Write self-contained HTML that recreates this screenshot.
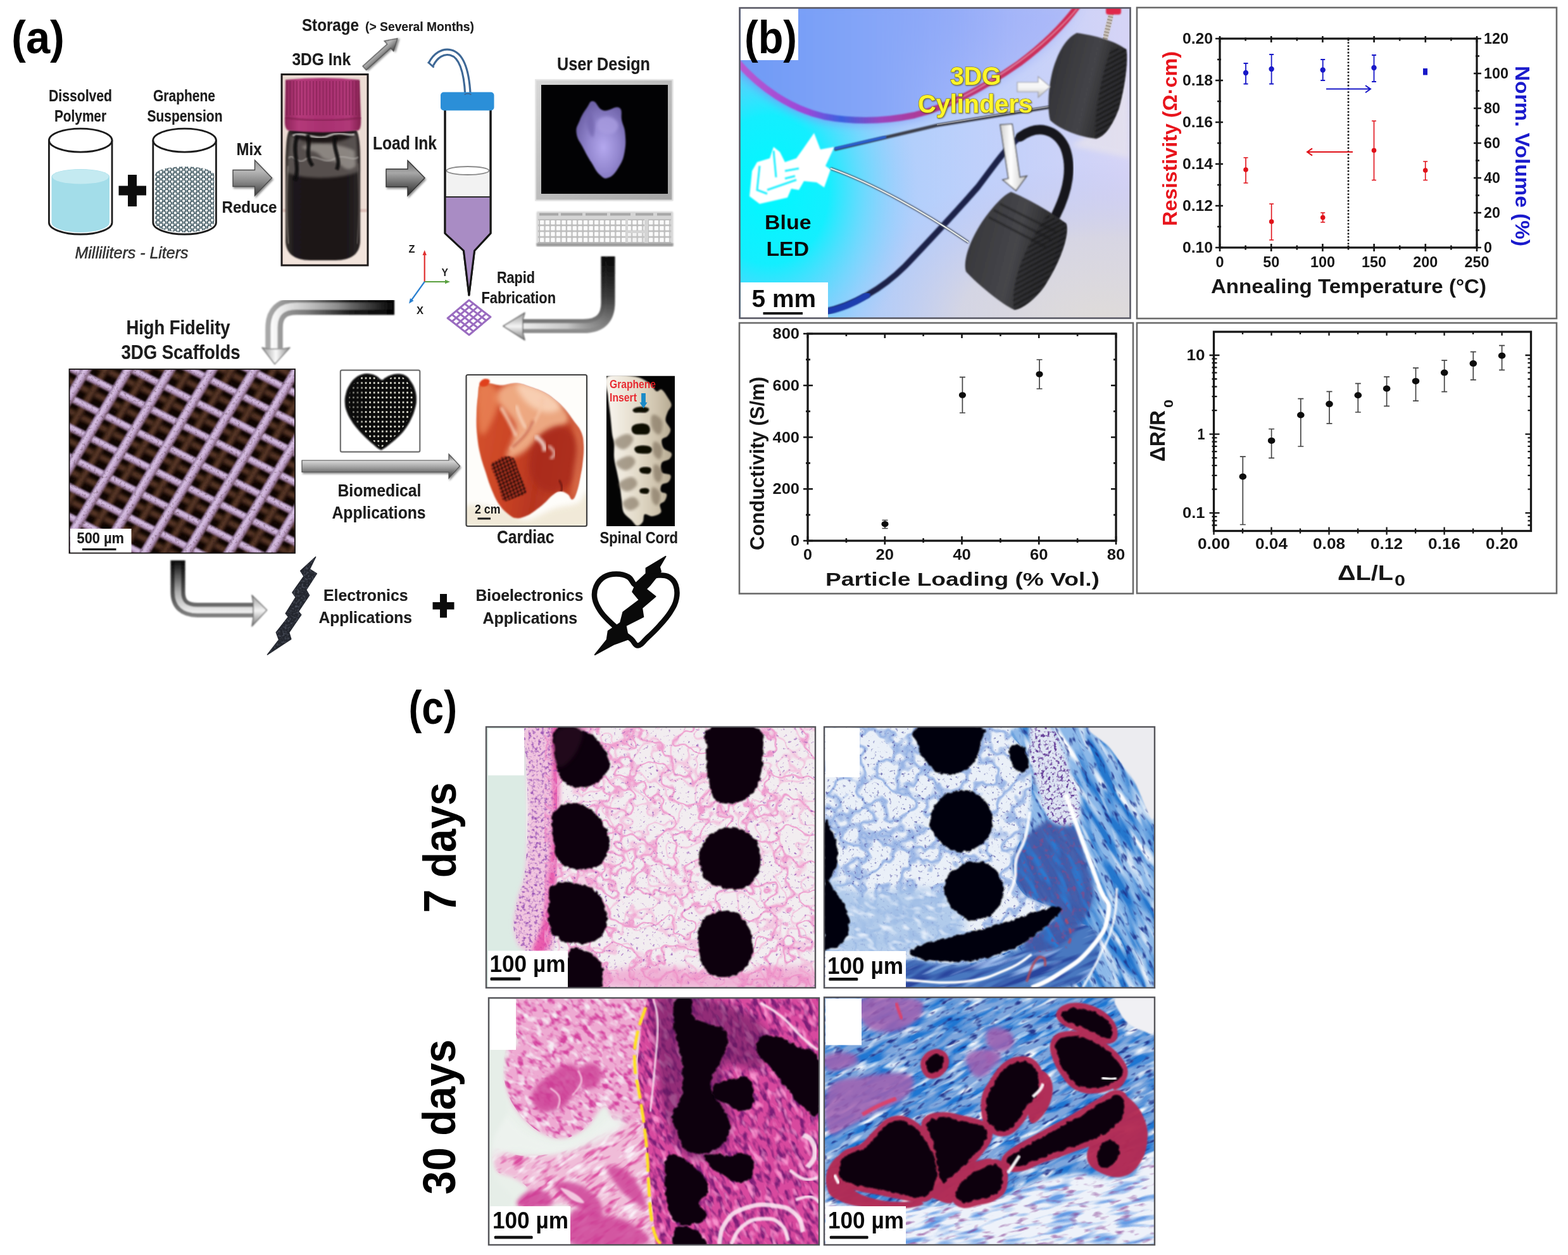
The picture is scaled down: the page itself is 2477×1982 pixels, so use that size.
<!DOCTYPE html>
<html lang="en">
<head>
<meta charset="utf-8">
<title>3D printed graphene (3DG) scaffolds figure</title>
<style>
html,body{margin:0;padding:0;background:#fff;}
body{width:2477px;height:1982px;overflow:hidden;}
svg{display:block;font-family:"Liberation Sans","DejaVu Sans",sans-serif;}
</style>
</head>
<body>
<svg xmlns="http://www.w3.org/2000/svg" width="2477" height="1982" viewBox="0 0 2477 1982">
<defs>
<linearGradient id="agArr" x1="0" y1="0" x2="0" y2="1"><stop offset="0" stop-color="#9c9c9c"/><stop offset="0.3" stop-color="#b8b8b8"/><stop offset="0.6" stop-color="#8a8a8a"/><stop offset="1" stop-color="#3c3c3c"/></linearGradient>
<linearGradient id="agArrD" x1="0" y1="0" x2="0" y2="1"><stop offset="0" stop-color="#6a6a6a"/><stop offset="0.35" stop-color="#a8a8a8"/><stop offset="0.65" stop-color="#6c6c6c"/><stop offset="1" stop-color="#2a2a2a"/></linearGradient>
<filter id="ab1" x="-10%" y="-10%" width="120%" height="120%"><feGaussianBlur stdDeviation="0.8"/></filter>
<filter id="ab2" x="-10%" y="-10%" width="120%" height="120%"><feGaussianBlur stdDeviation="2"/></filter>
<filter id="ab4" x="-20%" y="-20%" width="140%" height="140%"><feGaussianBlur stdDeviation="4"/></filter>
<filter id="ash" x="-20%" y="-20%" width="150%" height="150%"><feDropShadow dx="1.5" dy="2.5" stdDeviation="1.6" flood-color="#000" flood-opacity="0.45"/></filter>
<pattern id="apart" width="9" height="7.6" patternUnits="userSpaceOnUse" patternTransform="translate(243 262)"><rect width="9" height="7.6" fill="#40545c"/><circle cx="2.2" cy="2" r="2.25" fill="#f4f8f8"/><circle cx="6.8" cy="5.8" r="2.25" fill="#f4f8f8"/><circle cx="6.6" cy="1.6" r="1.1" fill="#a8c0c8"/><circle cx="2.2" cy="5.6" r="1.1" fill="#a8c0c8"/></pattern>

<clipPath id="abot"><rect x="446" y="118.5" width="134" height="299.5"/></clipPath>
<linearGradient id="agCap" x1="0" y1="0" x2="1" y2="0"><stop offset="0" stop-color="#8c2458"/><stop offset="0.18" stop-color="#b43a7a"/><stop offset="0.5" stop-color="#a83070"/><stop offset="0.85" stop-color="#b03878"/><stop offset="1" stop-color="#82204e"/></linearGradient>
<pattern id="apCap" width="5.2" height="10" patternUnits="userSpaceOnUse"><rect width="5.2" height="10" fill="none"/><rect width="1.8" height="10" fill="#7a1c4a" opacity="0.55"/></pattern>
<linearGradient id="agInk" x1="0" y1="0" x2="1" y2="0"><stop offset="0" stop-color="#3a3430"/><stop offset="0.12" stop-color="#1c181a"/><stop offset="0.8" stop-color="#1a1618"/><stop offset="1" stop-color="#2c2626"/></linearGradient>
<linearGradient id="agBez" x1="0" y1="0" x2="1" y2="1"><stop offset="0" stop-color="#d8d8d8"/><stop offset="0.5" stop-color="#bcbcbc"/><stop offset="1" stop-color="#a4a4a4"/></linearGradient>
<radialGradient id="agHrt" cx="0.55" cy="0.6" r="0.6"><stop offset="0" stop-color="#b4a8ee"/><stop offset="0.5" stop-color="#9488d0"/><stop offset="1" stop-color="#6e62a8"/></radialGradient>
<pattern id="apKey" width="8.6" height="9.2" patternUnits="userSpaceOnUse" patternTransform="translate(852 347)"><rect width="8.6" height="9.2" fill="#bdbdbd"/><rect x="1" y="1" width="6.4" height="6.6" rx="1" fill="#fbfbfb"/></pattern>
<clipPath id="ascf"><rect x="110" y="583.5" width="355.5" height="289.5"/></clipPath>
<linearGradient id="agS1" x1="0" y1="0" x2="0" y2="1"><stop offset="0" stop-color="#7e6088"/><stop offset="0.3" stop-color="#dcc6e8"/><stop offset="0.65" stop-color="#c0a2cc"/><stop offset="1" stop-color="#6a4a5c"/></linearGradient>
<linearGradient id="agS2" x1="0" y1="0" x2="0" y2="1"><stop offset="0" stop-color="#2a1608"/><stop offset="0.5" stop-color="#644030"/><stop offset="1" stop-color="#1a0a04"/></linearGradient>
<pattern id="apSA" width="60" height="57" patternUnits="userSpaceOnUse" patternTransform="translate(220 872) rotate(-59)"><rect y="0" width="60" height="15.5" fill="url(#agS1)"/></pattern>
<pattern id="apSB" width="60" height="42" patternUnits="userSpaceOnUse" patternTransform="translate(112 669) rotate(27)"><rect y="0" width="60" height="12.5" fill="url(#agS1)"/></pattern>
<pattern id="apSC" width="60" height="57" patternUnits="userSpaceOnUse" patternTransform="translate(252 872) rotate(-59)"><rect y="0" width="60" height="13" fill="url(#agS2)"/></pattern>
<pattern id="apSD" width="60" height="42" patternUnits="userSpaceOnUse" patternTransform="translate(112 691) rotate(27)"><rect y="0" width="60" height="12" fill="url(#agS2)"/></pattern>
<filter id="aSn" x="0" y="0" width="100%" height="100%" color-interpolation-filters="sRGB"><feTurbulence type="fractalNoise" baseFrequency="0.25" numOctaves="2" seed="4" result="n"/><feColorMatrix in="n" type="matrix" values="0 0 0 0 0.2  0 0 0 0 0.1  0 0 0 0 0.1  2.2 0 0 0 -1.2" result="c"/><feComposite in="c" in2="SourceGraphic" operator="in"/></filter>
<linearGradient id="agC1" gradientUnits="userSpaceOnUse" x1="960" y1="405" x2="960" y2="520"><stop offset="0" stop-color="#050505"/><stop offset="0.55" stop-color="#3a3a3a"/><stop offset="1" stop-color="#8c8c8c"/></linearGradient>
<linearGradient id="agC1b" gradientUnits="userSpaceOnUse" x1="800" y1="0" x2="960" y2="0"><stop offset="0" stop-color="#fafafa"/><stop offset="0.6" stop-color="#c8c8c8"/><stop offset="1" stop-color="#909090" stop-opacity="0"/></linearGradient>
<linearGradient id="agC2" gradientUnits="userSpaceOnUse" x1="623" y1="0" x2="425" y2="0"><stop offset="0" stop-color="#020202"/><stop offset="0.35" stop-color="#1c1c1c"/><stop offset="0.7" stop-color="#7a7a7a"/><stop offset="1" stop-color="#a8a8a8"/></linearGradient>
<linearGradient id="agC2b" gradientUnits="userSpaceOnUse" x1="623" y1="0" x2="425" y2="0"><stop offset="0" stop-color="#8a8a8a" stop-opacity="0"/><stop offset="0.45" stop-color="#b0b0b0" stop-opacity="0.7"/><stop offset="1" stop-color="#ffffff"/></linearGradient>
<linearGradient id="agC3" gradientUnits="userSpaceOnUse" x1="0" y1="884" x2="0" y2="980"><stop offset="0" stop-color="#050505"/><stop offset="0.5" stop-color="#4a4a4a"/><stop offset="1" stop-color="#8a8a8a"/></linearGradient>
<linearGradient id="agC3b" gradientUnits="userSpaceOnUse" x1="0" y1="884" x2="0" y2="970"><stop offset="0" stop-color="#888" stop-opacity="0"/><stop offset="0.6" stop-color="#c4c4c4" stop-opacity="0.8"/><stop offset="1" stop-color="#f4f4f4"/></linearGradient>
<linearGradient id="agBio" x1="0" y1="0" x2="0" y2="1"><stop offset="0" stop-color="#5a5a5a"/><stop offset="0.3" stop-color="#d4d4d4"/><stop offset="0.55" stop-color="#a0a0a0"/><stop offset="1" stop-color="#303030"/></linearGradient>
<linearGradient id="agHd" x1="0" y1="0" x2="0" y2="1"><stop offset="0" stop-color="#9a9a9a"/><stop offset="0.5" stop-color="#f4f4f4"/><stop offset="1" stop-color="#7a7a7a"/></linearGradient>
<linearGradient id="agHd2" x1="0" y1="0" x2="1" y2="0"><stop offset="0" stop-color="#9a9a9a"/><stop offset="0.5" stop-color="#fafafa"/><stop offset="1" stop-color="#8a8a8a"/></linearGradient>
<pattern id="apDots" width="6.55" height="7.65" patternUnits="userSpaceOnUse" patternTransform="translate(568.2 593.6)"><rect width="6.55" height="7.65" fill="#0a0a0a"/><rect x="1.9" y="2.2" width="2.8" height="2.8" rx="0.7" fill="#e6e6d8"/></pattern>
<clipPath id="ahm"><path d="M602.8 603.7C599.9 602.8 598.5 598.8 594.6 596.7C590.6 594.6 588.5 594.2 584.1 593.7C579.7 593.2 577.9 593.2 573.7 594.6C569.5 595.9 567.8 596.8 564.1 600.2C560.5 603.6 558.9 605.7 556.3 610.7C553.7 615.6 553.1 618.4 552.0 623.7C550.9 629.0 550.7 630.6 551.1 635.9C551.5 641.2 551.9 643.4 553.7 648.9C555.5 654.4 556.7 656.7 559.8 662.0C562.9 667.3 564.5 669.2 568.5 674.1C572.5 679.1 574.5 680.9 578.9 685.4C583.3 690.0 585.0 691.7 589.3 695.9C593.7 700.1 596.5 703.5 599.8 705.4C603.1 707.4 601.7 706.8 605.0 705.0C608.3 703.2 610.9 700.7 615.4 696.7C620.0 692.8 622.2 691.1 626.7 686.3C631.3 681.6 633.3 679.6 637.2 674.1C641.0 668.7 642.2 666.2 645.0 660.2C647.8 654.2 649.0 651.6 650.7 645.4C652.3 639.2 652.7 636.7 652.7 630.7C652.7 624.6 652.3 622.0 650.7 616.7C649.0 611.4 647.5 609.5 645.0 605.4C642.5 601.4 642.2 599.9 638.9 597.6C635.6 595.3 633.7 594.8 629.3 594.6C625.0 594.3 622.4 594.9 618.0 596.3C613.7 597.7 611.7 599.5 608.5 601.1C605.3 602.6 605.7 604.6 602.8 603.7Z"/></clipPath>
<clipPath id="acar"><rect x="737" y="592.5" width="189.5" height="238.0" rx="2"/></clipPath>
<linearGradient id="agCar" gradientUnits="userSpaceOnUse" x1="750" y1="700" x2="925" y2="730"><stop offset="0" stop-color="#d2502c"/><stop offset="0.3" stop-color="#cc4526"/><stop offset="0.6" stop-color="#b6351f"/><stop offset="1" stop-color="#c84a2c"/></linearGradient>
<pattern id="apHex" width="7.4" height="8.4" patternUnits="userSpaceOnUse" patternTransform="translate(778 722) rotate(22)"><rect width="7.4" height="8.4" fill="#1c0a08"/><circle cx="1.85" cy="2.1" r="2.1" fill="#b03420"/><circle cx="5.55" cy="6.3" r="2.1" fill="#b03420"/></pattern>
<clipPath id="acarh"><path d="M758.9 606.4C762.7 602.3 766.1 605.2 773.2 605.6C780.4 606.1 784.0 608.6 792.8 608.6C801.7 608.6 806.0 605.0 815.5 605.6C825.0 606.3 828.6 608.5 838.1 611.7C847.6 614.8 852.8 616.6 860.7 620.7C868.6 624.8 869.4 626.2 875.8 631.3C882.1 636.3 884.5 637.9 890.8 644.8C897.2 651.8 900.2 656.5 905.9 664.4C911.6 672.3 914.7 674.3 918.0 682.5C921.3 690.8 921.3 693.5 921.8 703.6C922.2 713.8 921.4 720.3 920.2 730.8C919.1 741.2 918.4 743.9 916.5 753.4C914.6 762.9 913.7 768.6 911.2 776.0C908.7 783.4 907.4 787.9 904.4 788.8C901.4 789.8 901.0 783.2 896.9 780.5C892.8 777.8 889.9 775.7 884.8 776.0C879.8 776.3 877.8 778.2 872.8 782.0C867.7 785.8 866.4 789.0 860.7 794.1C855.0 799.2 851.9 801.7 845.6 806.2C839.3 810.6 836.9 812.7 830.5 815.2C824.2 817.7 821.2 818.9 815.5 818.2C809.8 817.6 808.8 816.3 803.4 812.2C798.0 808.1 795.2 806.2 789.8 798.6C784.4 791.0 782.5 787.1 777.8 776.0C773.0 764.9 771.3 758.5 767.2 745.8C763.1 733.2 761.0 728.4 758.2 715.7C755.3 703.0 754.8 698.2 753.6 685.5C752.5 672.9 752.6 668.1 752.9 655.4C753.2 642.7 753.9 635.5 755.2 625.2C756.4 614.9 755.1 610.5 758.9 606.4Z"/></clipPath>
<clipPath id="aspn"><rect x="958" y="593.5" width="108" height="237.5"/></clipPath>
<linearGradient id="agBone" gradientUnits="userSpaceOnUse" x1="965" y1="0" x2="1060" y2="0"><stop offset="0" stop-color="#f6f2ea"/><stop offset="0.45" stop-color="#e2dac8"/><stop offset="0.75" stop-color="#cfc4ae"/><stop offset="1" stop-color="#b8ac94"/></linearGradient>
<filter id="aBn" x="0" y="0" width="100%" height="100%" color-interpolation-filters="sRGB"><feTurbulence type="fractalNoise" baseFrequency="0.3" numOctaves="2" seed="8" result="n"/><feColorMatrix in="n" type="matrix" values="0 0 0 0 0.45  0 0 0 0 0.48  0 0 0 0 0.55  2.4 0 0 0 -1.1" result="c"/><feComposite in="c" in2="SourceGraphic" operator="in"/></filter>
<clipPath id="bclip"><rect x="1169" y="13" width="616" height="489"/></clipPath>
<linearGradient id="bbg" gradientUnits="userSpaceOnUse" x1="1170" y1="250" x2="1785" y2="250">
<stop offset="0" stop-color="#66bcf8"/><stop offset="0.3" stop-color="#a8cefc"/><stop offset="0.6" stop-color="#bed0fb"/><stop offset="1" stop-color="#d6d4f6"/></linearGradient>
<radialGradient id="bcy" gradientUnits="userSpaceOnUse" cx="1215" cy="300" r="235" gradientTransform="translate(1215 300) scale(1 1.25) translate(-1215 -300)">
<stop offset="0" stop-color="#00f8ff" stop-opacity="1"/><stop offset="0.4" stop-color="#10f0ff" stop-opacity="0.97"/><stop offset="0.7" stop-color="#58dcff" stop-opacity="0.55"/><stop offset="1" stop-color="#90c8ff" stop-opacity="0"/></radialGradient>
<linearGradient id="bup" gradientUnits="userSpaceOnUse" x1="1170" y1="0" x2="1600" y2="0"><stop offset="0" stop-color="#6e9af6"/><stop offset="0.5" stop-color="#86a6f8"/><stop offset="1" stop-color="#9cacf8" stop-opacity="0.6"/></linearGradient>
<radialGradient id="bgr" gradientUnits="userSpaceOnUse" cx="1740" cy="520" r="330" gradientTransform="translate(1740 520) scale(1.25 0.8) translate(-1740 -520)">
<stop offset="0" stop-color="#e0dcd8" stop-opacity="1"/><stop offset="0.55" stop-color="#d8d6e0" stop-opacity="0.85"/><stop offset="1" stop-color="#c0c4f0" stop-opacity="0"/></radialGradient>
<radialGradient id="btop" gradientUnits="userSpaceOnUse" cx="1330" cy="10" r="260" gradientTransform="translate(1330 10) scale(1.5 0.6) translate(-1330 -10)">
<stop offset="0" stop-color="#7496f4" stop-opacity="1"/><stop offset="1" stop-color="#8aa8f8" stop-opacity="0"/></radialGradient>
<linearGradient id="bwire" gradientUnits="userSpaceOnUse" x1="1170" y1="0" x2="1700" y2="0">
<stop offset="0" stop-color="#b858d0"/><stop offset="0.2" stop-color="#9848d8"/><stop offset="0.3" stop-color="#3a62e0"/><stop offset="0.42" stop-color="#9c44bc"/><stop offset="0.6" stop-color="#b83480"/><stop offset="0.8" stop-color="#c83060"/><stop offset="1" stop-color="#d02c54"/></linearGradient>
<linearGradient id="bcylA" gradientUnits="userSpaceOnUse" x1="1660" y1="120" x2="1780" y2="150">
<stop offset="0" stop-color="#343438"/><stop offset="0.5" stop-color="#444448"/><stop offset="0.72" stop-color="#303032"/><stop offset="1" stop-color="#222224"/></linearGradient>
<linearGradient id="bcylB" gradientUnits="userSpaceOnUse" x1="1530" y1="380" x2="1690" y2="420">
<stop offset="0" stop-color="#38383c"/><stop offset="0.45" stop-color="#46464a"/><stop offset="0.7" stop-color="#2e2e30"/><stop offset="1" stop-color="#222224"/></linearGradient>
<linearGradient id="barrw" x1="0" y1="0" x2="0" y2="1"><stop offset="0" stop-color="#ffffff"/><stop offset="0.55" stop-color="#f4f4f4"/><stop offset="1" stop-color="#b8b8b8"/></linearGradient>
<linearGradient id="barrw2" x1="0" y1="0" x2="1" y2="0"><stop offset="0" stop-color="#d0d0d0"/><stop offset="0.4" stop-color="#ffffff"/><stop offset="1" stop-color="#c4c4c4"/></linearGradient>
<filter id="bl1" x="-10%" y="-10%" width="120%" height="120%"><feGaussianBlur stdDeviation="1"/></filter>
<filter id="bl2" x="-10%" y="-10%" width="120%" height="120%"><feGaussianBlur stdDeviation="2"/></filter>
<filter id="bl4" x="-20%" y="-20%" width="140%" height="140%"><feGaussianBlur stdDeviation="4"/></filter>
<filter id="bl8" x="-30%" y="-30%" width="160%" height="160%"><feGaussianBlur stdDeviation="8"/></filter>
<pattern id="brib" width="7" height="7" patternUnits="userSpaceOnUse" patternTransform="rotate(-28)"><rect width="7" height="7" fill="#2e2e30"/><rect width="7" height="3" fill="#161618"/></pattern>

<filter id="cb1" x="-10%" y="-10%" width="120%" height="120%"><feGaussianBlur stdDeviation="1.2"/></filter>
<filter id="cb3" x="-20%" y="-20%" width="140%" height="140%"><feGaussianBlur stdDeviation="3"/></filter>
<filter id="cb6" x="-30%" y="-30%" width="160%" height="160%"><feGaussianBlur stdDeviation="6"/></filter>
<filter id="cb12" x="-40%" y="-40%" width="180%" height="180%"><feGaussianBlur stdDeviation="12"/></filter>
<filter id="rough" x="-5%" y="-5%" width="110%" height="110%">
<feTurbulence type="fractalNoise" baseFrequency="0.12" numOctaves="2" seed="7" result="n"/>
<feDisplacementMap in="SourceGraphic" in2="n" scale="7" xChannelSelector="R" yChannelSelector="G" result="d"/>
<feGaussianBlur in="d" stdDeviation="0.9"/></filter>
<filter id="tPinkNet" x="0" y="0" width="100%" height="100%" color-interpolation-filters="sRGB">
<feTurbulence type="fractalNoise" baseFrequency="0.022" numOctaves="3" seed="11" result="n"/>
<feColorMatrix in="n" type="matrix" values="0 0 0 0 0.93  0 0 0 0 0.55  0 0 0 0 0.78  1 0 0 0 0" result="c"/>
<feComponentTransfer in="c" result="d"><feFuncA type="table" tableValues="0 0 0 0 0 0 0 0 0 0 1 0 0 0 0 0 0 0 0 0 0"/></feComponentTransfer>
<feComposite in="d" in2="SourceGraphic" operator="in"/></filter>
<filter id="tPinkNet2" x="0" y="0" width="100%" height="100%" color-interpolation-filters="sRGB">
<feTurbulence type="fractalNoise" baseFrequency="0.03" numOctaves="2" seed="17" result="n"/>
<feColorMatrix in="n" type="matrix" values="0 0 0 0 0.95  0 0 0 0 0.65  0 0 0 0 0.82  1 0 0 0 0" result="c"/>
<feComponentTransfer in="c" result="d"><feFuncA type="table" tableValues="0 0 0 0 0 0 0 0 0 0 1 0 0 0 0 0 0 0 0 0 0"/></feComponentTransfer>
<feComposite in="d" in2="SourceGraphic" operator="in"/></filter>
<filter id="tPinkDots" x="0" y="0" width="100%" height="100%" color-interpolation-filters="sRGB">
<feTurbulence type="fractalNoise" baseFrequency="0.2" numOctaves="2" seed="5" result="n"/>
<feColorMatrix in="n" type="matrix" values="0 0 0 0 0.55  0 0 0 0 0.3  0 0 0 0 0.7  4.5 0 0 0 -2.9" result="c"/>
<feComposite in="c" in2="SourceGraphic" operator="in"/></filter>
<filter id="tPinkDotsD" x="0" y="0" width="100%" height="100%" color-interpolation-filters="sRGB">
<feTurbulence type="fractalNoise" baseFrequency="0.2" numOctaves="2" seed="6" result="n"/>
<feColorMatrix in="n" type="matrix" values="0 0 0 0 0.62  0 0 0 0 0.35  0 0 0 0 0.72  3.4 0 0 0 -1.65" result="c"/>
<feComposite in="c" in2="SourceGraphic" operator="in"/></filter>
<filter id="tPurpDots" x="0" y="0" width="100%" height="100%" color-interpolation-filters="sRGB">
<feTurbulence type="fractalNoise" baseFrequency="0.2" numOctaves="2" seed="9" result="n"/>
<feColorMatrix in="n" type="matrix" values="0 0 0 0 0.4  0 0 0 0 0.25  0 0 0 0 0.6  4.2 0 0 0 -2.1" result="c"/>
<feComposite in="c" in2="SourceGraphic" operator="in"/></filter>
<filter id="tBlueNet" x="0" y="0" width="100%" height="100%" color-interpolation-filters="sRGB">
<feTurbulence type="fractalNoise" baseFrequency="0.025" numOctaves="3" seed="21" result="n"/>
<feColorMatrix in="n" type="matrix" values="0 0 0 0 0.45  0 0 0 0 0.6  0 0 0 0 0.86  1 0 0 0 0" result="c"/>
<feComponentTransfer in="c" result="d"><feFuncA type="table" tableValues="0 0 0 0 0 0 0 0 0 .6 1 .6 0 0 0 0 0 0 0 0 0"/></feComponentTransfer>
<feComposite in="d" in2="SourceGraphic" operator="in"/></filter>
<filter id="tBlueDots" x="0" y="0" width="100%" height="100%" color-interpolation-filters="sRGB">
<feTurbulence type="fractalNoise" baseFrequency="0.2" numOctaves="2" seed="15" result="n"/>
<feColorMatrix in="n" type="matrix" values="0 0 0 0 0.3  0 0 0 0 0.3  0 0 0 0 0.62  4.5 0 0 0 -2.8" result="c"/>
<feComposite in="c" in2="SourceGraphic" operator="in"/></filter>
<filter id="tWhiteStr" x="0" y="0" width="100%" height="100%" color-interpolation-filters="sRGB">
<feTurbulence type="fractalNoise" baseFrequency="0.05" numOctaves="3" seed="33" result="n"/>
<feColorMatrix in="n" type="matrix" values="0 0 0 0 1  0 0 0 0 1  0 0 0 0 1  3.5 0 0 0 -1.75" result="c"/>
<feComposite in="c" in2="SourceGraphic" operator="in"/></filter>
<filter id="tMagStr" x="0" y="0" width="100%" height="100%" color-interpolation-filters="sRGB">
<feTurbulence type="fractalNoise" baseFrequency="0.06" numOctaves="3" seed="41" result="n"/>
<feColorMatrix in="n" type="matrix" values="0 0 0 0 0.9  0 0 0 0 0.4  0 0 0 0 0.7  3.0 0 0 0 -1.45" result="c"/>
<feComposite in="c" in2="SourceGraphic" operator="in"/></filter>
<filter id="tDarkMag" x="0" y="0" width="100%" height="100%" color-interpolation-filters="sRGB">
<feTurbulence type="fractalNoise" baseFrequency="0.09" numOctaves="3" seed="43" result="n"/>
<feColorMatrix in="n" type="matrix" values="0 0 0 0 0.4  0 0 0 0 0.1  0 0 0 0 0.4  3.0 0 0 0 -1.45" result="c"/>
<feComposite in="c" in2="SourceGraphic" operator="in"/></filter>
<filter id="tBlueStr" x="0" y="0" width="100%" height="100%" color-interpolation-filters="sRGB">
<feTurbulence type="fractalNoise" baseFrequency="0.07" numOctaves="3" seed="51" result="n"/>
<feColorMatrix in="n" type="matrix" values="0 0 0 0 0.1  0 0 0 0 0.45  0 0 0 0 0.8  3.2 0 0 0 -1.4" result="c"/>
<feComposite in="c" in2="SourceGraphic" operator="in"/></filter>
<filter id="tLightStr" x="0" y="0" width="100%" height="100%" color-interpolation-filters="sRGB">
<feTurbulence type="fractalNoise" baseFrequency="0.08" numOctaves="3" seed="53" result="n"/>
<feColorMatrix in="n" type="matrix" values="0 0 0 0 0.92  0 0 0 0 0.95  0 0 0 0 1  3.4 0 0 0 -1.65" result="c"/>
<feComposite in="c" in2="SourceGraphic" operator="in"/></filter>
<clipPath id="c1clip"><rect x="769" y="1149" width="518" height="410"/></clipPath>
<clipPath id="c2clip"><rect x="1303" y="1149" width="520" height="410"/></clipPath>
<clipPath id="sk1"><path d="M1302.3 1389.0C1314.0 1370.7 1332.9 1407.9 1360.7 1410.5C1388.5 1413.2 1414.5 1401.4 1441.4 1402.5C1468.3 1403.5 1479.1 1402.5 1495.2 1415.9C1511.4 1429.4 1532.9 1452.5 1522.1 1469.7C1511.4 1486.9 1485.4 1495.6 1441.4 1502.0C1397.5 1508.5 1330.1 1524.6 1302.3 1502.0C1274.5 1479.4 1290.7 1407.3 1302.3 1389.0Z"/></clipPath>
<filter id="sf1" x="0" y="0" width="100%" height="100%" color-interpolation-filters="sRGB"><feTurbulence type="fractalNoise" baseFrequency="0.05 0.09" numOctaves="2" seed="71" result="n"/><feColorMatrix in="n" type="matrix" values="0 0 0 0 0.95  0 0 0 0 0.97  0 0 0 0 1  3.4 0 0 0 -1.75" result="c"/><feComposite in="c" in2="SourceGraphic" operator="in"/></filter>
<clipPath id="sk2"><path d="M1610.9 1147.7C1646.6 1140.8 1785.8 1075.6 1822.9 1147.7C1860.0 1219.8 1891.5 1487.7 1822.9 1559.8C1754.2 1632.0 1499.3 1567.1 1430.7 1559.8C1362.0 1552.5 1414.6 1524.5 1430.7 1518.1C1446.7 1511.8 1489.6 1528.2 1522.1 1523.5C1554.6 1518.8 1590.4 1505.4 1616.3 1491.2C1642.2 1477.1 1670.1 1456.9 1670.1 1442.8C1670.1 1428.7 1628.5 1424.7 1616.3 1410.5C1604.0 1396.4 1598.7 1382.4 1600.1 1362.1C1601.5 1341.9 1619.2 1318.4 1624.3 1294.9C1629.5 1271.3 1630.7 1246.4 1629.7 1227.6C1628.8 1208.8 1622.3 1201.2 1619.0 1187.3C1615.7 1173.3 1575.2 1154.6 1610.9 1147.7Z"/></clipPath>
<filter id="sf2" x="0" y="0" width="100%" height="100%" color-interpolation-filters="sRGB"><feTurbulence type="fractalNoise" baseFrequency="0.012 0.075" numOctaves="2" seed="61" result="n"/><feColorMatrix in="n" type="matrix" values="0 0 0 0 0.12  0 0 0 0 0.45  0 0 0 0 0.8  3.6 0 0 0 -1.45" result="c"/><feComposite in="c" in2="SourceGraphic" operator="in"/></filter>
<clipPath id="sk3"><path d="M1610.9 1147.7C1646.6 1140.8 1785.8 1075.6 1822.9 1147.7C1860.0 1219.8 1891.5 1487.7 1822.9 1559.8C1754.2 1632.0 1499.3 1567.1 1430.7 1559.8C1362.0 1552.5 1414.6 1524.5 1430.7 1518.1C1446.7 1511.8 1489.6 1528.2 1522.1 1523.5C1554.6 1518.8 1590.4 1505.4 1616.3 1491.2C1642.2 1477.1 1670.1 1456.9 1670.1 1442.8C1670.1 1428.7 1628.5 1424.7 1616.3 1410.5C1604.0 1396.4 1598.7 1382.4 1600.1 1362.1C1601.5 1341.9 1619.2 1318.4 1624.3 1294.9C1629.5 1271.3 1630.7 1246.4 1629.7 1227.6C1628.8 1208.8 1622.3 1201.2 1619.0 1187.3C1615.7 1173.3 1575.2 1154.6 1610.9 1147.7Z"/></clipPath>
<filter id="sf3" x="0" y="0" width="100%" height="100%" color-interpolation-filters="sRGB"><feTurbulence type="fractalNoise" baseFrequency="0.014 0.08" numOctaves="2" seed="62" result="n"/><feColorMatrix in="n" type="matrix" values="0 0 0 0 1  0 0 0 0 1  0 0 0 0 1  3.6 0 0 0 -1.85" result="c"/><feComposite in="c" in2="SourceGraphic" operator="in"/></filter>
<clipPath id="sk4"><path d="M1610.9 1147.7C1646.6 1140.8 1785.8 1075.6 1822.9 1147.7C1860.0 1219.8 1891.5 1487.7 1822.9 1559.8C1754.2 1632.0 1499.3 1567.1 1430.7 1559.8C1362.0 1552.5 1414.6 1524.5 1430.7 1518.1C1446.7 1511.8 1489.6 1528.2 1522.1 1523.5C1554.6 1518.8 1590.4 1505.4 1616.3 1491.2C1642.2 1477.1 1670.1 1456.9 1670.1 1442.8C1670.1 1428.7 1628.5 1424.7 1616.3 1410.5C1604.0 1396.4 1598.7 1382.4 1600.1 1362.1C1601.5 1341.9 1619.2 1318.4 1624.3 1294.9C1629.5 1271.3 1630.7 1246.4 1629.7 1227.6C1628.8 1208.8 1622.3 1201.2 1619.0 1187.3C1615.7 1173.3 1575.2 1154.6 1610.9 1147.7Z"/></clipPath>
<filter id="sf4" x="0" y="0" width="100%" height="100%" color-interpolation-filters="sRGB"><feTurbulence type="fractalNoise" baseFrequency="0.06 0.16" numOctaves="2" seed="63" result="n"/><feColorMatrix in="n" type="matrix" values="0 0 0 0 0.12  0 0 0 0 0.2  0 0 0 0 0.55  4.2 0 0 0 -2.35" result="c"/><feComposite in="c" in2="SourceGraphic" operator="in"/></filter>
<clipPath id="sk5"><path d="M1430.7 1518.1C1446.7 1511.8 1489.6 1527.3 1522.1 1523.5C1554.6 1519.8 1588.0 1508.4 1616.3 1496.6C1644.5 1484.9 1662.3 1458.6 1683.5 1456.3C1704.7 1453.9 1737.3 1465.1 1737.3 1483.2C1737.3 1501.3 1737.2 1546.4 1683.5 1559.8C1629.9 1573.3 1474.9 1567.1 1430.7 1559.8C1386.4 1552.5 1414.6 1524.5 1430.7 1518.1Z"/></clipPath>
<filter id="sf5" x="0" y="0" width="100%" height="100%" color-interpolation-filters="sRGB"><feTurbulence type="fractalNoise" baseFrequency="0.015 0.09" numOctaves="2" seed="64" result="n"/><feColorMatrix in="n" type="matrix" values="0 0 0 0 0.15  0 0 0 0 0.25  0 0 0 0 0.6  3.6 0 0 0 -1.6" result="c"/><feComposite in="c" in2="SourceGraphic" operator="in"/></filter>
<clipPath id="sk6"><path d="M1430.7 1518.1C1446.7 1511.8 1489.6 1527.3 1522.1 1523.5C1554.6 1519.8 1588.0 1508.4 1616.3 1496.6C1644.5 1484.9 1662.3 1458.6 1683.5 1456.3C1704.7 1453.9 1737.3 1465.1 1737.3 1483.2C1737.3 1501.3 1737.2 1546.4 1683.5 1559.8C1629.9 1573.3 1474.9 1567.1 1430.7 1559.8C1386.4 1552.5 1414.6 1524.5 1430.7 1518.1Z"/></clipPath>
<filter id="sf6" x="0" y="0" width="100%" height="100%" color-interpolation-filters="sRGB"><feTurbulence type="fractalNoise" baseFrequency="0.015 0.09" numOctaves="2" seed="65" result="n"/><feColorMatrix in="n" type="matrix" values="0 0 0 0 0.75  0 0 0 0 0.85  0 0 0 0 1  3.6 0 0 0 -1.95" result="c"/><feComposite in="c" in2="SourceGraphic" operator="in"/></filter>
<clipPath id="sk7"><path d="M1610.9 1335.2C1620.3 1321.1 1641.1 1299.6 1656.6 1294.9C1672.2 1290.2 1689.3 1296.5 1699.7 1308.3C1710.0 1320.1 1711.1 1343.3 1715.8 1362.1C1720.5 1380.9 1729.4 1397.1 1726.6 1415.9C1723.7 1434.8 1711.9 1454.7 1699.7 1469.7C1687.4 1484.8 1671.2 1498.2 1656.6 1502.0C1642.0 1505.8 1613.9 1501.6 1616.3 1491.2C1618.6 1480.9 1669.6 1456.9 1670.1 1442.8C1670.5 1428.7 1630.7 1422.3 1619.0 1410.5C1607.2 1398.8 1604.2 1388.8 1602.8 1375.6C1601.4 1362.4 1601.5 1349.3 1610.9 1335.2Z"/></clipPath>
<filter id="sf7" x="0" y="0" width="100%" height="100%" color-interpolation-filters="sRGB"><feTurbulence type="fractalNoise" baseFrequency="0.02 0.08" numOctaves="2" seed="66" result="n"/><feColorMatrix in="n" type="matrix" values="0 0 0 0 0.15  0 0 0 0 0.5  0 0 0 0 0.85  3.4 0 0 0 -1.6" result="c"/><feComposite in="c" in2="SourceGraphic" operator="in"/></filter>
<clipPath id="sk8"><path d="M1610.9 1335.2C1620.3 1321.1 1641.1 1299.6 1656.6 1294.9C1672.2 1290.2 1689.3 1296.5 1699.7 1308.3C1710.0 1320.1 1711.1 1343.3 1715.8 1362.1C1720.5 1380.9 1729.4 1397.1 1726.6 1415.9C1723.7 1434.8 1711.9 1454.7 1699.7 1469.7C1687.4 1484.8 1671.2 1498.2 1656.6 1502.0C1642.0 1505.8 1613.9 1501.6 1616.3 1491.2C1618.6 1480.9 1669.6 1456.9 1670.1 1442.8C1670.5 1428.7 1630.7 1422.3 1619.0 1410.5C1607.2 1398.8 1604.2 1388.8 1602.8 1375.6C1601.4 1362.4 1601.5 1349.3 1610.9 1335.2Z"/></clipPath>
<filter id="sf8" x="0" y="0" width="100%" height="100%" color-interpolation-filters="sRGB"><feTurbulence type="fractalNoise" baseFrequency="0.12 0.12" numOctaves="2" seed="67" result="n"/><feColorMatrix in="n" type="matrix" values="0 0 0 0 0.5  0 0 0 0 0.3  0 0 0 0 0.55  4 0 0 0 -2.2" result="c"/><feComposite in="c" in2="SourceGraphic" operator="in"/></filter>
<clipPath id="c3clip"><rect x="773" y="1577" width="520" height="388"/></clipPath>
<clipPath id="sk9"><path d="M814.9 1577.0C851.0 1564.8 990.9 1566.0 1024.8 1577.0C1058.7 1587.9 1011.8 1616.5 1008.6 1639.6C1005.3 1662.7 1005.0 1684.8 1006.2 1709.2C1007.5 1733.5 1021.2 1767.4 1015.5 1778.8C1009.8 1790.1 984.3 1779.8 973.8 1774.1C963.2 1768.4 963.3 1745.5 955.2 1746.3C947.1 1747.1 937.9 1769.8 927.4 1778.8C916.8 1787.7 906.3 1794.9 894.9 1797.3C883.5 1799.8 873.8 1797.6 862.4 1792.7C851.1 1787.8 840.1 1780.0 830.0 1769.5C819.8 1758.9 810.5 1746.2 804.4 1732.4C798.3 1718.6 796.0 1703.6 795.2 1690.6C794.3 1677.6 795.7 1665.9 799.8 1658.1C803.9 1650.4 815.7 1660.8 818.4 1646.5C821.0 1632.3 778.7 1589.1 814.9 1577.0Z"/></clipPath>
<filter id="sf9" x="0" y="0" width="100%" height="100%" color-interpolation-filters="sRGB"><feTurbulence type="fractalNoise" baseFrequency="0.07 0.11" numOctaves="2" seed="81" result="n"/><feColorMatrix in="n" type="matrix" values="0 0 0 0 0.82  0 0 0 0 0.22  0 0 0 0 0.6  3.6 0 0 0 -1.7" result="c"/><feComposite in="c" in2="SourceGraphic" operator="in"/></filter>
<clipPath id="sk10"><path d="M814.9 1577.0C851.0 1564.8 990.9 1566.0 1024.8 1577.0C1058.7 1587.9 1011.8 1616.5 1008.6 1639.6C1005.3 1662.7 1005.0 1684.8 1006.2 1709.2C1007.5 1733.5 1021.2 1767.4 1015.5 1778.8C1009.8 1790.1 984.3 1779.8 973.8 1774.1C963.2 1768.4 963.3 1745.5 955.2 1746.3C947.1 1747.1 937.9 1769.8 927.4 1778.8C916.8 1787.7 906.3 1794.9 894.9 1797.3C883.5 1799.8 873.8 1797.6 862.4 1792.7C851.1 1787.8 840.1 1780.0 830.0 1769.5C819.8 1758.9 810.5 1746.2 804.4 1732.4C798.3 1718.6 796.0 1703.6 795.2 1690.6C794.3 1677.6 795.7 1665.9 799.8 1658.1C803.9 1650.4 815.7 1660.8 818.4 1646.5C821.0 1632.3 778.7 1589.1 814.9 1577.0Z"/></clipPath>
<filter id="sf10" x="0" y="0" width="100%" height="100%" color-interpolation-filters="sRGB"><feTurbulence type="fractalNoise" baseFrequency="0.06 0.1" numOctaves="2" seed="82" result="n"/><feColorMatrix in="n" type="matrix" values="0 0 0 0 0.97  0 0 0 0 0.95  0 0 0 0 0.97  3.6 0 0 0 -1.85" result="c"/><feComposite in="c" in2="SourceGraphic" operator="in"/></filter>
<clipPath id="sk11"><path d="M778.9 1813.6C784.8 1810.1 807.7 1824.1 823.0 1825.2C838.3 1826.2 865.3 1824.0 881.0 1820.5C896.6 1817.0 913.5 1808.2 927.4 1802.0C941.3 1795.7 960.2 1782.2 973.8 1778.8C987.3 1775.3 1009.8 1764.9 1017.8 1778.8C1025.8 1792.7 1024.5 1843.5 1027.1 1871.6C1029.7 1899.6 1054.0 1951.4 1035.0 1965.5C1016.0 1979.6 920.8 1974.5 900.7 1965.5C880.6 1956.5 912.7 1914.2 900.7 1905.2C888.7 1896.1 830.6 1909.2 820.7 1905.2C810.8 1901.2 836.0 1885.3 834.6 1878.5C833.2 1871.7 819.0 1864.5 811.4 1860.0C803.7 1855.4 788.4 1855.3 783.6 1848.4C778.7 1841.4 773.0 1817.0 778.9 1813.6Z"/></clipPath>
<filter id="sf11" x="0" y="0" width="100%" height="100%" color-interpolation-filters="sRGB"><feTurbulence type="fractalNoise" baseFrequency="0.04 0.12" numOctaves="2" seed="83" result="n"/><feColorMatrix in="n" type="matrix" values="0 0 0 0 0.85  0 0 0 0 0.25  0 0 0 0 0.6  3.6 0 0 0 -1.75" result="c"/><feComposite in="c" in2="SourceGraphic" operator="in"/></filter>
<clipPath id="sk12"><path d="M778.9 1813.6C784.8 1810.1 807.7 1824.1 823.0 1825.2C838.3 1826.2 865.3 1824.0 881.0 1820.5C896.6 1817.0 913.5 1808.2 927.4 1802.0C941.3 1795.7 960.2 1782.2 973.8 1778.8C987.3 1775.3 1009.8 1764.9 1017.8 1778.8C1025.8 1792.7 1024.5 1843.5 1027.1 1871.6C1029.7 1899.6 1054.0 1951.4 1035.0 1965.5C1016.0 1979.6 920.8 1974.5 900.7 1965.5C880.6 1956.5 912.7 1914.2 900.7 1905.2C888.7 1896.1 830.6 1909.2 820.7 1905.2C810.8 1901.2 836.0 1885.3 834.6 1878.5C833.2 1871.7 819.0 1864.5 811.4 1860.0C803.7 1855.4 788.4 1855.3 783.6 1848.4C778.7 1841.4 773.0 1817.0 778.9 1813.6Z"/></clipPath>
<filter id="sf12" x="0" y="0" width="100%" height="100%" color-interpolation-filters="sRGB"><feTurbulence type="fractalNoise" baseFrequency="0.04 0.11" numOctaves="2" seed="84" result="n"/><feColorMatrix in="n" type="matrix" values="0 0 0 0 0.98  0 0 0 0 0.96  0 0 0 0 0.98  3.6 0 0 0 -1.8" result="c"/><feComposite in="c" in2="SourceGraphic" operator="in"/></filter>
<clipPath id="sk13"><path d="M1027.1 1556.1C1026.0 1561.3 1026.5 1556.1 1022.5 1577.0C1018.4 1597.8 1014.4 1606.5 1010.9 1639.6C1007.4 1672.6 1006.8 1674.4 1008.6 1709.2C1010.3 1744.0 1013.2 1738.2 1017.8 1778.8C1022.5 1819.4 1022.5 1824.9 1027.1 1871.6C1031.8 1918.2 1033.5 1936.5 1036.4 1965.5C1039.3 1994.5 1038.1 1982.0 1038.7 1987.5 L1400 2000 L1400 1500 Z"/></clipPath>
<filter id="sf13" x="0" y="0" width="100%" height="100%" color-interpolation-filters="sRGB"><feTurbulence type="fractalNoise" baseFrequency="0.06 0.12" numOctaves="2" seed="85" result="n"/><feColorMatrix in="n" type="matrix" values="0 0 0 0 0.45  0 0 0 0 0.1  0 0 0 0 0.45  3.6 0 0 0 -1.6" result="c"/><feComposite in="c" in2="SourceGraphic" operator="in"/></filter>
<clipPath id="sk14"><path d="M1027.1 1556.1C1026.0 1561.3 1026.5 1556.1 1022.5 1577.0C1018.4 1597.8 1014.4 1606.5 1010.9 1639.6C1007.4 1672.6 1006.8 1674.4 1008.6 1709.2C1010.3 1744.0 1013.2 1738.2 1017.8 1778.8C1022.5 1819.4 1022.5 1824.9 1027.1 1871.6C1031.8 1918.2 1033.5 1936.5 1036.4 1965.5C1039.3 1994.5 1038.1 1982.0 1038.7 1987.5 L1400 2000 L1400 1500 Z"/></clipPath>
<filter id="sf14" x="0" y="0" width="100%" height="100%" color-interpolation-filters="sRGB"><feTurbulence type="fractalNoise" baseFrequency="0.05 0.1" numOctaves="2" seed="86" result="n"/><feColorMatrix in="n" type="matrix" values="0 0 0 0 0.98  0 0 0 0 0.6  0 0 0 0 0.82  3.6 0 0 0 -1.85" result="c"/><feComposite in="c" in2="SourceGraphic" operator="in"/></filter>
<clipPath id="c4clip"><rect x="1303" y="1576" width="520" height="389"/></clipPath>
<clipPath id="sk15"><path d="M1303.1 1575.8C1381.9 1526.2 1749.7 1538.4 1828.5 1575.8C1907.3 1613.2 1835.5 1782.5 1828.5 1825.2C1821.6 1867.8 1799.5 1853.0 1782.1 1860.0C1764.7 1866.9 1733.4 1868.1 1712.5 1871.6C1691.7 1875.0 1663.8 1879.7 1642.9 1883.2C1622.1 1886.6 1594.2 1891.6 1573.4 1894.8C1552.5 1897.9 1524.6 1902.3 1503.8 1904.0C1482.9 1905.8 1464.3 1906.0 1434.2 1906.3C1404.1 1906.7 1322.8 1955.9 1303.1 1906.3C1283.5 1856.8 1224.3 1625.4 1303.1 1575.8Z"/></clipPath>
<filter id="sf15" x="0" y="0" width="100%" height="100%" color-interpolation-filters="sRGB"><feTurbulence type="fractalNoise" baseFrequency="0.022 0.09" numOctaves="2" seed="91" result="n"/><feColorMatrix in="n" type="matrix" values="0 0 0 0 0.1  0 0 0 0 0.45  0 0 0 0 0.82  3.6 0 0 0 -1.5" result="c"/><feComposite in="c" in2="SourceGraphic" operator="in"/></filter>
<clipPath id="sk16"><path d="M1303.1 1575.8C1381.9 1526.2 1749.7 1538.4 1828.5 1575.8C1907.3 1613.2 1835.5 1782.5 1828.5 1825.2C1821.6 1867.8 1799.5 1853.0 1782.1 1860.0C1764.7 1866.9 1733.4 1868.1 1712.5 1871.6C1691.7 1875.0 1663.8 1879.7 1642.9 1883.2C1622.1 1886.6 1594.2 1891.6 1573.4 1894.8C1552.5 1897.9 1524.6 1902.3 1503.8 1904.0C1482.9 1905.8 1464.3 1906.0 1434.2 1906.3C1404.1 1906.7 1322.8 1955.9 1303.1 1906.3C1283.5 1856.8 1224.3 1625.4 1303.1 1575.8Z"/></clipPath>
<filter id="sf16" x="0" y="0" width="100%" height="100%" color-interpolation-filters="sRGB"><feTurbulence type="fractalNoise" baseFrequency="0.025 0.1" numOctaves="2" seed="92" result="n"/><feColorMatrix in="n" type="matrix" values="0 0 0 0 1  0 0 0 0 1  0 0 0 0 1  3.6 0 0 0 -1.9" result="c"/><feComposite in="c" in2="SourceGraphic" operator="in"/></filter>
<clipPath id="sk17"><path d="M1303.1 1575.8C1381.9 1526.2 1749.7 1538.4 1828.5 1575.8C1907.3 1613.2 1835.5 1782.5 1828.5 1825.2C1821.6 1867.8 1799.5 1853.0 1782.1 1860.0C1764.7 1866.9 1733.4 1868.1 1712.5 1871.6C1691.7 1875.0 1663.8 1879.7 1642.9 1883.2C1622.1 1886.6 1594.2 1891.6 1573.4 1894.8C1552.5 1897.9 1524.6 1902.3 1503.8 1904.0C1482.9 1905.8 1464.3 1906.0 1434.2 1906.3C1404.1 1906.7 1322.8 1955.9 1303.1 1906.3C1283.5 1856.8 1224.3 1625.4 1303.1 1575.8Z"/></clipPath>
<filter id="sf17" x="0" y="0" width="100%" height="100%" color-interpolation-filters="sRGB"><feTurbulence type="fractalNoise" baseFrequency="0.06 0.14" numOctaves="2" seed="93" result="n"/><feColorMatrix in="n" type="matrix" values="0 0 0 0 0.1  0 0 0 0 0.15  0 0 0 0 0.5  4.2 0 0 0 -2.4" result="c"/><feComposite in="c" in2="SourceGraphic" operator="in"/></filter>
<clipPath id="sk18"><path d="M1303.1 1906.3C1322.8 1897.0 1404.1 1906.7 1434.2 1906.3C1464.3 1906.0 1482.9 1905.8 1503.8 1904.0C1524.6 1902.3 1555.2 1899.6 1573.4 1894.8C1591.5 1889.9 1606.4 1877.7 1624.6 1871.4C1642.7 1865.2 1676.7 1854.6 1694.1 1852.9C1711.5 1851.1 1726.6 1858.8 1740.5 1859.8C1754.4 1860.9 1774.4 1865.1 1786.9 1859.8C1799.4 1854.6 1818.4 1808.7 1824.0 1825.1C1829.5 1841.4 1902.1 1947.2 1824.0 1968.8C1745.8 1990.4 1381.2 1978.4 1303.1 1969.0C1225.0 1959.6 1283.5 1915.7 1303.1 1906.3Z"/></clipPath>
<filter id="sf18" x="0" y="0" width="100%" height="100%" color-interpolation-filters="sRGB"><feTurbulence type="fractalNoise" baseFrequency="0.02 0.1" numOctaves="2" seed="94" result="n"/><feColorMatrix in="n" type="matrix" values="0 0 0 0 0.3  0 0 0 0 0.55  0 0 0 0 0.88  3.6 0 0 0 -1.75" result="c"/><feComposite in="c" in2="SourceGraphic" operator="in"/></filter>
<clipPath id="sk19"><path d="M1303.1 1906.3C1322.8 1897.0 1404.1 1906.7 1434.2 1906.3C1464.3 1906.0 1482.9 1905.8 1503.8 1904.0C1524.6 1902.3 1555.2 1899.6 1573.4 1894.8C1591.5 1889.9 1606.4 1877.7 1624.6 1871.4C1642.7 1865.2 1676.7 1854.6 1694.1 1852.9C1711.5 1851.1 1726.6 1858.8 1740.5 1859.8C1754.4 1860.9 1774.4 1865.1 1786.9 1859.8C1799.4 1854.6 1818.4 1808.7 1824.0 1825.1C1829.5 1841.4 1902.1 1947.2 1824.0 1968.8C1745.8 1990.4 1381.2 1978.4 1303.1 1969.0C1225.0 1959.6 1283.5 1915.7 1303.1 1906.3Z"/></clipPath>
<filter id="sf19" x="0" y="0" width="100%" height="100%" color-interpolation-filters="sRGB"><feTurbulence type="fractalNoise" baseFrequency="0.05 0.14" numOctaves="2" seed="95" result="n"/><feColorMatrix in="n" type="matrix" values="0 0 0 0 0.55  0 0 0 0 0.3  0 0 0 0 0.6  4 0 0 0 -2.25" result="c"/><feComposite in="c" in2="SourceGraphic" operator="in"/></filter>
<clipPath id="sk20"><path d="M1303 1576H1823V1965H1303Z"/></clipPath>
<filter id="sf20" x="0" y="0" width="100%" height="100%" color-interpolation-filters="sRGB"><feTurbulence type="fractalNoise" baseFrequency="0.1 0.14" numOctaves="2" seed="97" result="n"/><feColorMatrix in="n" type="matrix" values="0 0 0 0 0.25  0 0 0 0 0.05  0 0 0 0 0.2  4 0 0 0 -2.0" result="c"/><feComposite in="c" in2="SourceGraphic" operator="in"/></filter>
</defs>
<rect x="0" y="0" width="2477" height="1982" fill="#ffffff"/>
<text x="18" y="83.5" font-size="73" font-weight="bold" fill="#000" textLength="84" lengthAdjust="spacingAndGlyphs" >(a)</text>
<text x="77" y="160" font-size="26.08" font-weight="bold" fill="#1c1c1c" textLength="100" lengthAdjust="spacingAndGlyphs" stroke="#1c1c1c" stroke-width="0.2">Dissolved</text>
<text x="86" y="191.5" font-size="26.08" font-weight="bold" fill="#1c1c1c" textLength="82" lengthAdjust="spacingAndGlyphs" stroke="#1c1c1c" stroke-width="0.2">Polymer</text>
<text x="242" y="160" font-size="26.08" font-weight="bold" fill="#1c1c1c" textLength="98" lengthAdjust="spacingAndGlyphs" stroke="#1c1c1c" stroke-width="0.2">Graphene</text>
<text x="232.5" y="191.5" font-size="26.08" font-weight="bold" fill="#1c1c1c" textLength="119" lengthAdjust="spacingAndGlyphs" stroke="#1c1c1c" stroke-width="0.2">Suspension</text>
<text x="373.5" y="244.5" font-size="27.56" font-weight="bold" fill="#1c1c1c" textLength="40" lengthAdjust="spacingAndGlyphs" stroke="#1c1c1c" stroke-width="0.2">Mix</text>
<text x="350.5" y="335.5" font-size="26.5" font-weight="bold" fill="#1c1c1c" textLength="87" lengthAdjust="spacingAndGlyphs" stroke="#1c1c1c" stroke-width="0.2">Reduce</text>
<text x="118.5" y="407.5" font-size="26.08" font-weight="normal" fill="#303030" font-style="italic" textLength="179" lengthAdjust="spacingAndGlyphs" stroke="#303030" stroke-width="0.5">Milliliters - Liters</text>
<text x="461.5" y="103" font-size="28.09" font-weight="bold" fill="#1c1c1c" textLength="92.5" lengthAdjust="spacingAndGlyphs" stroke="#1c1c1c" stroke-width="0.2">3DG Ink</text>
<text x="477" y="48.5" font-size="27.03" font-weight="bold" fill="#1c1c1c" textLength="90" lengthAdjust="spacingAndGlyphs" stroke="#1c1c1c" stroke-width="0.2">Storage</text>
<text x="577" y="48.5" font-size="20.67" font-weight="bold" fill="#1c1c1c" textLength="172" lengthAdjust="spacingAndGlyphs" stroke="#1c1c1c" stroke-width="0.2">(&gt; Several Months)</text>
<text x="589" y="235.5" font-size="28.83" font-weight="bold" fill="#1c1c1c" textLength="101" lengthAdjust="spacingAndGlyphs" stroke="#1c1c1c" stroke-width="0.2">Load Ink</text>
<text x="880" y="110.5" font-size="30.21" font-weight="bold" fill="#1c1c1c" textLength="147" lengthAdjust="spacingAndGlyphs" stroke="#1c1c1c" stroke-width="0.2">User Design</text>
<text x="785" y="447" font-size="25.97" font-weight="bold" fill="#1c1c1c" textLength="60" lengthAdjust="spacingAndGlyphs" stroke="#1c1c1c" stroke-width="0.2">Rapid</text>
<text x="760.5" y="479" font-size="25.97" font-weight="bold" fill="#1c1c1c" textLength="117.5" lengthAdjust="spacingAndGlyphs" stroke="#1c1c1c" stroke-width="0.2">Fabrication</text>
<path d="M81.4 279 A45.8 12 0 0 1 173.0 279 L173.0 351.5 A45.8 15.5 0 0 1 81.4 351.5 Z" fill="#a3dde9"/>
<ellipse cx="127.2" cy="279" rx="44.8" ry="11.5" fill="#c4eaf1"/>
<path d="M77.4 221.6 V351.5 A49.8 18.5 0 0 0 177.0 351.5 V221.6" fill="none" stroke="#1c1c1c" stroke-width="2.8"/>
<ellipse cx="127.2" cy="221.6" rx="49.8" ry="18.5" fill="#fff" stroke="#1c1c1c" stroke-width="2.8"/>
<path d="M244.8 276 A46.8 13 0 0 1 338.40000000000003 276 L338.40000000000003 351.5 A46.8 15.5 0 0 1 244.8 351.5 Z" fill="url(#apart)"/>
<path d="M241.8 221.6 V351.5 A49.8 18.5 0 0 0 341.40000000000003 351.5 V221.6" fill="none" stroke="#1c1c1c" stroke-width="2.8"/>
<ellipse cx="291.6" cy="221.6" rx="49.8" ry="18.5" fill="#fff" stroke="#1c1c1c" stroke-width="2.8"/>
<path d="M202 276H216V293.5H231V308.5H216V326H202V308.5H187.5V293.5H202Z" fill="#0c0c0c"/>
<path d="M368 268.5H402.5V253L429.5 281L402.5 309V294.5H368Z" fill="url(#agArr)" stroke="#4a4a4a" stroke-width="1.4" filter="url(#ash)"/>
<path d="M610 267H644V253.5L671 281L644 309V295H610Z" fill="url(#agArrD)" stroke="#333" stroke-width="1.4" filter="url(#ash)"/>
<g transform="translate(575.8 107.6) rotate(-42)"><path d="M0 -4.2H52V-11L70 0L52 11V4.2H0Z" fill="url(#agArr)" stroke="#4a4a4a" stroke-width="1.2" filter="url(#ash)"/></g>
<g clip-path="url(#abot)">
<rect x="446" y="118.5" width="134" height="299.5" fill="#ecdcd4"/>
<rect x="446" y="334" width="134" height="90" fill="#f2e4dc"/>
<rect x="446" y="330" width="134" height="5" fill="#d8b8b0" opacity="0.8" filter="url(#ab1)"/>
<path d="M457 205 C452 215 452 232 451 250 V380 C451 400 465 411 490 411 H530 C556 411 569 400 569 380 V250 C569 232 568 215 563 205 Z" fill="url(#agInk)" filter="url(#ab1)"/>
<path d="M458 212 C470 222 500 228 515 226 C540 224 556 218 563 210 L567 270 C550 282 480 286 453 272 Z" fill="#6a6460" opacity="0.75" filter="url(#ab2)"/>
<path d="M476 232 C486 240 498 236 506 246 C516 258 530 250 540 262 C548 270 556 268 562 262 L560 238 C540 228 500 222 476 232 Z" fill="#b8b2ac" opacity="0.55" filter="url(#ab2)"/>
<path d="M462 214 C480 206 500 224 520 214 C540 206 550 216 560 212" fill="none" stroke="#e8e4e0" stroke-width="3" opacity="0.8" filter="url(#ab1)"/>
<path d="M456 250 C462 240 470 262 482 252 C500 240 510 262 530 250 C545 242 556 256 566 248" fill="none" stroke="#b8b4b0" stroke-width="2.5" opacity="0.6" filter="url(#ab1)"/>
<path d="M470 214 C460 240 475 262 466 285 M486 212 C492 230 480 244 494 262 M530 216 C524 236 540 250 532 268" fill="none" stroke="#0c0a0a" stroke-width="6" opacity="0.9" filter="url(#ab1)"/>
<path d="M455 262 C452 300 452 350 456 385" fill="none" stroke="#8a847e" stroke-width="2.5" opacity="0.6" filter="url(#ab1)"/>
<path d="M565 258 C568 300 568 350 564 385" fill="none" stroke="#6a6460" stroke-width="2.5" opacity="0.6" filter="url(#ab1)"/>
<path d="M451 126 Q510 120 568 126 L570 186 Q571 204 566 206 Q510 212 455 206 Q449 204 450 186 Z" fill="url(#agCap)" filter="url(#ab1)"/>
<rect x="452" y="128" width="116" height="54" fill="url(#apCap)"/>
<path d="M451 186 Q510 194 570 186" fill="none" stroke="#7a1c48" stroke-width="2.5" opacity="0.7" filter="url(#ab1)"/>
</g>
<rect x="445" y="117.5" width="136" height="301.5" fill="none" stroke="#1e1a1a" stroke-width="3"/>
<path d="M680.5 102 C688 87 700 80 712 83 C728 87 737 110 739 150" fill="none" stroke="#3e6896" stroke-width="11.5" stroke-linecap="butt"/>
<path d="M680.5 102 C688 87 700 80 712 83 C728 87 737 110 739 150" fill="none" stroke="#ffffff" stroke-width="5.2" stroke-linecap="butt"/>
<path d="M676 98 L685.5 106.5" stroke="#3e6896" stroke-width="3"/>
<path d="M703 172 V368.5 L732.5 396 L740.9 466 L749.5 396 L775 368.5 V172 Z" fill="#ffffff" stroke="#161616" stroke-width="3" stroke-linejoin="round"/>
<path d="M704.5 311 H773.5 V368 L748.8 395 L741 462 L733.2 395 L704.5 368 Z" fill="#a98cc4"/>
<path d="M703 311 H775" stroke="#2a2a2a" stroke-width="2"/>
<rect x="705" y="269" width="68.5" height="41" fill="#f2f2f2"/>
<ellipse cx="739" cy="269.5" rx="33.5" ry="6.5" fill="#ffffff" stroke="#8a8a8a" stroke-width="1.8"/>
<path d="M703 172 V368.5 L732.5 396 L740.9 466 L749.5 396 L775 368.5 V172" fill="none" stroke="#161616" stroke-width="3" stroke-linejoin="round"/>
<rect x="696" y="145.5" width="84.5" height="29" rx="5" fill="#2b8fd8"/>
<path d="M734.3 150 C734.5 147 744 147 743.8 150" fill="none" stroke="#3e6896" stroke-width="2"/>
<path d="M670.7 445 V400" stroke="#e03030" stroke-width="2.2"/><path d="M667.5 403 L670.7 395 L673.9 403Z" fill="#e03030"/>
<path d="M670.7 445 H705" stroke="#5aa040" stroke-width="2.2"/><path d="M703 441.8 L711 445 L703 448.2Z" fill="#5aa040"/>
<path d="M670.7 445 L648.5 476" stroke="#2a80d0" stroke-width="2.2"/><path d="M646 479.5 L648 471 L653.5 475Z" fill="#2a80d0"/>
<text x="645.5" y="399" font-size="15.9" font-weight="bold" fill="#222" textLength="10" lengthAdjust="spacingAndGlyphs" >Z</text>
<text x="697.5" y="435.5" font-size="16.96" font-weight="bold" fill="#222" textLength="10.5" lengthAdjust="spacingAndGlyphs" >Y</text>
<text x="658" y="496" font-size="16.96" font-weight="bold" fill="#222" textLength="11" lengthAdjust="spacingAndGlyphs" >X</text>
<g transform="translate(741 501.5) scale(0.86) rotate(38) skewX(-12)"><path d="M-25 -26V26M-26 -25H26" stroke="#9a6cc0" stroke-width="3.6" fill="none"/><path d="M-15 -26V26M-26 -15H26" stroke="#9a6cc0" stroke-width="3.6" fill="none"/><path d="M-5 -26V26M-26 -5H26" stroke="#9a6cc0" stroke-width="3.6" fill="none"/><path d="M5 -26V26M-26 5H26" stroke="#9a6cc0" stroke-width="3.6" fill="none"/><path d="M15 -26V26M-26 15H26" stroke="#9a6cc0" stroke-width="3.6" fill="none"/><path d="M25 -26V26M-26 25H26" stroke="#9a6cc0" stroke-width="3.6" fill="none"/></g>
<rect x="846" y="126" width="216.5" height="190.5" fill="url(#agBez)" filter="url(#ab1)"/>
<rect x="846" y="126" width="216.5" height="190.5" fill="none" stroke="#e4e4e4" stroke-width="2" opacity="0.8"/>
<rect x="855" y="134" width="200" height="172" fill="#020204"/>
<path d="M937.4 160.0C943.3 161.0 944.2 172.2 953.3 174.5C962.5 176.8 971.4 166.6 978.0 170.1C984.5 173.7 980.2 181.3 982.3 190.4C984.5 199.6 986.6 199.6 987.5 210.7C988.5 221.8 988.8 228.0 986.7 239.7C984.5 251.4 983.5 253.8 978.0 262.9C972.4 272.0 968.9 277.4 962.0 280.3C955.2 283.2 953.7 281.2 947.5 275.9C941.3 270.7 940.4 266.6 934.5 257.1C928.6 247.6 926.8 244.3 921.4 233.9C916.1 223.5 912.0 220.5 910.7 210.7C909.4 200.9 911.9 199.6 915.7 190.4C919.4 181.3 922.4 177.0 927.2 170.1C932.1 163.3 931.5 159.0 937.4 160.0Z" fill="url(#agHrt)" filter="url(#ab1)"/>
<path d="M931.6 175.9C929.3 175.9 926.4 188.1 927.2 196.2C928.1 204.3 933.6 216.5 935.9 216.5C938.3 216.5 939.7 204.3 938.8 196.2C938.0 188.1 933.9 175.9 931.6 175.9Z" fill="#7468b0" opacity="0.8" filter="url(#ab2)"/>
<path d="M944.6 190.4C947.5 185.8 955.7 183.5 962.0 184.6C968.4 185.8 975.4 191.0 976.5 196.2C977.7 201.4 973.6 208.4 967.8 210.7C962.0 213.0 952.2 211.9 947.5 207.8C942.9 203.8 941.7 195.1 944.6 190.4Z" fill="#a89ce0" opacity="0.8" filter="url(#ab2)"/>
<rect x="847.5" y="334" width="216" height="55" rx="2" fill="#d4d4d4" filter="url(#ab1)"/>
<rect x="850" y="346" width="138" height="38" fill="url(#apKey)"/>
<rect x="992" y="346" width="26" height="18" fill="url(#apKey)"/>
<rect x="992" y="368" width="26" height="16" fill="url(#apKey)" opacity="0.8"/>
<rect x="1024" y="346" width="36" height="38" fill="url(#apKey)"/>
<path d="M852 338.5H1060" stroke="#9c9c9c" stroke-width="4" stroke-dasharray="30 4 34 5 34 5 32 8 28 6" opacity="0.8"/>
<rect x="847.5" y="384" width="216" height="5" fill="#8c8c8c" opacity="0.8" filter="url(#ab1)"/>
<text x="199.5" y="528" font-size="31.8" font-weight="bold" fill="#1c1c1c" textLength="164" lengthAdjust="spacingAndGlyphs" stroke="#1c1c1c" stroke-width="0.2">High Fidelity</text>
<text x="191.5" y="566.5" font-size="31.8" font-weight="bold" fill="#1c1c1c" textLength="188" lengthAdjust="spacingAndGlyphs" stroke="#1c1c1c" stroke-width="0.2">3DG Scaffolds</text>
<text x="533.5" y="784" font-size="28.09" font-weight="bold" fill="#1c1c1c" textLength="132" lengthAdjust="spacingAndGlyphs" stroke="#1c1c1c" stroke-width="0.2">Biomedical</text>
<text x="524.5" y="818.5" font-size="28.09" font-weight="bold" fill="#1c1c1c" textLength="148" lengthAdjust="spacingAndGlyphs" stroke="#1c1c1c" stroke-width="0.2">Applications</text>
<text x="785" y="857.5" font-size="29.68" font-weight="bold" fill="#1c1c1c" textLength="90.5" lengthAdjust="spacingAndGlyphs" stroke="#1c1c1c" stroke-width="0.2">Cardiac</text>
<text x="947.5" y="857.5" font-size="25.97" font-weight="bold" fill="#1c1c1c" textLength="123.5" lengthAdjust="spacingAndGlyphs" stroke="#1c1c1c" stroke-width="0.2">Spinal Cord</text>
<g clip-path="url(#ascf)">
<rect x="110" y="583.5" width="355.5" height="289.5" fill="#0e0502"/>
<g filter="url(#ab2)"><rect x="100" y="573.5" width="375.5" height="309.5" fill="url(#apSD)"/>
<rect x="100" y="573.5" width="375.5" height="309.5" fill="url(#apSC)"/></g>
<g filter="url(#ab1)"><rect x="100" y="573.5" width="375.5" height="309.5" fill="url(#apSB)"/>
<rect x="100" y="573.5" width="375.5" height="309.5" fill="url(#apSA)"/></g>
<rect x="110" y="583.5" width="355.5" height="289.5" fill="#fff" filter="url(#aSn)" opacity="0.5"/>
<rect x="111" y="835" width="96.5" height="38" fill="#ffffff"/>
</g>
<rect x="109.5" y="583.0" width="356.5" height="290.5" fill="none" stroke="#141010" stroke-width="1.8"/>
<text x="121.5" y="857.5" font-size="23.85" font-weight="bold" fill="#1c1c1c" textLength="74.5" lengthAdjust="spacingAndGlyphs" stroke="#1c1c1c" stroke-width="0.2">500 µm</text>
<rect x="130" y="866" width="53.5" height="3.2" fill="#1a1a1a"/>
<g filter="url(#ab1)"><path d="M960.5 405 V478 Q960.5 515 922 515 H826" fill="none" stroke="url(#agC1)" stroke-width="22"/>
<path d="M960.5 405 V478 Q960.5 515 922 515 H826" fill="none" stroke="url(#agC1b)" stroke-width="9"/>
<path d="M829 494 L795 515 L829 537 L826 526 L826 504 Z" fill="url(#agHd)" stroke="#6a6a6a" stroke-width="1.6" stroke-linejoin="round"/></g>
<g filter="url(#ab1)"><path d="M623 483.5 H468 Q433 483.5 433 518 V550" fill="none" stroke="url(#agC2)" stroke-width="27.5"/>
<path d="M623 483.5 H468 Q433 483.5 433 518 V550" fill="none" stroke="url(#agC2b)" stroke-width="11"/>
<path d="M414 549 L434 575 L458 549 L446 551 H424 Z" fill="url(#agHd2)" stroke="#7a7a7a" stroke-width="1.6" stroke-linejoin="round"/></g>
<g filter="url(#ab1)"><path d="M281 885 V935 Q281 963.5 312 963.5 H400" fill="none" stroke="url(#agC3)" stroke-width="23"/>
<path d="M281 885 V935 Q281 963.5 312 963.5 H400" fill="none" stroke="url(#agC3b)" stroke-width="10"/>
<path d="M398 940 L421.5 963.5 L398 989 L400 976 V951 Z" fill="url(#agHd)" stroke="#6a6a6a" stroke-width="1.6" stroke-linejoin="round"/></g>
<path d="M477 727 H709 V717 L726.5 736 L709 755.5 V745.5 H477 Z" fill="url(#agBio)" stroke="#555" stroke-width="1.2" filter="url(#ash)"/>
<rect x="537.8" y="584.7" width="125.5" height="129" rx="2.5" fill="#fff" stroke="#707070" stroke-width="2.2"/>
<path d="M602.8 599.8C599.9 599.1 598.5 595.6 594.6 593.7C590.6 591.7 588.7 591.0 584.1 590.5C579.6 589.9 577.6 589.8 572.8 591.1C568.1 592.4 565.9 593.2 561.5 596.7C557.1 600.3 555.2 602.7 552.0 608.0C548.8 613.3 547.8 616.1 546.3 622.0C544.8 627.8 544.6 630.0 544.8 635.9C545.1 641.7 545.6 643.9 547.6 649.8C549.7 655.6 551.1 658.0 554.6 663.7C558.0 669.4 559.7 671.4 564.1 676.7C568.5 682.0 570.5 684.0 575.4 688.9C580.4 693.8 582.5 695.8 587.6 700.2C592.7 704.6 596.1 707.9 599.8 709.8C603.4 711.7 601.5 711.2 605.0 709.3C608.5 707.5 611.2 705.2 616.3 701.1C621.4 697.0 624.2 694.9 629.3 689.8C634.5 684.7 636.5 682.6 640.7 676.7C644.9 670.9 646.2 668.3 649.3 662.0C652.5 655.6 653.6 652.9 655.4 646.3C657.2 639.7 657.9 637.2 657.9 630.7C657.9 624.1 657.2 620.8 655.4 615.0C653.6 609.2 652.3 607.3 649.3 602.8C646.4 598.4 645.7 596.3 641.5 593.7C637.3 591.1 634.5 590.8 629.3 590.5C624.2 590.2 621.6 591.1 617.2 592.4C612.8 593.7 611.5 595.2 608.5 596.7C605.5 598.3 605.7 600.4 602.8 599.8Z" fill="#0a0a0a" filter="url(#ab1)"/>
<g clip-path="url(#ahm)"><rect x="545" y="590" width="115" height="121" fill="url(#apDots)" style="filter:blur(0.5px)"/>
<path d="M545.9 609.8C550.0 601.1 562.9 595.9 568.5 601.1C574.0 606.3 573.3 622.0 573.7 635.9C574.0 649.8 573.3 665.4 570.2 670.7C567.1 675.9 562.6 667.2 558.0 662.0C553.5 656.7 550.0 655.0 547.6 644.6C545.2 634.1 541.7 618.5 545.9 609.8Z" fill="#0a0a0a" opacity="0.5" filter="url(#ab2)"/></g>
<g clip-path="url(#acar)">
<rect x="737" y="592.5" width="189.5" height="238.0" fill="#fefdfa"/>
<path d="M800.4 806.2C816.9 810.1 817.3 821.8 830.5 821.2C843.7 820.7 861.3 807.9 875.8 803.1C890.3 798.4 904.5 798.8 913.5 794.1C922.4 789.3 924.7 769.5 927.0 776.0C929.4 782.5 960.4 821.4 927.0 831.0C893.7 840.7 769.7 836.7 736.3 831.0C702.9 825.4 725.1 803.0 736.3 798.6C747.5 794.3 783.9 802.2 800.4 806.2Z" fill="#efe6d2" opacity="0.85" filter="url(#ab4)"/>
<path d="M758.9 606.4C762.7 602.3 766.1 605.2 773.2 605.6C780.4 606.1 784.0 608.6 792.8 608.6C801.7 608.6 806.0 605.0 815.5 605.6C825.0 606.3 828.6 608.5 838.1 611.7C847.6 614.8 852.8 616.6 860.7 620.7C868.6 624.8 869.4 626.2 875.8 631.3C882.1 636.3 884.5 637.9 890.8 644.8C897.2 651.8 900.2 656.5 905.9 664.4C911.6 672.3 914.7 674.3 918.0 682.5C921.3 690.8 921.3 693.5 921.8 703.6C922.2 713.8 921.4 720.3 920.2 730.8C919.1 741.2 918.4 743.9 916.5 753.4C914.6 762.9 913.7 768.6 911.2 776.0C908.7 783.4 907.4 787.9 904.4 788.8C901.4 789.8 901.0 783.2 896.9 780.5C892.8 777.8 889.9 775.7 884.8 776.0C879.8 776.3 877.8 778.2 872.8 782.0C867.7 785.8 866.4 789.0 860.7 794.1C855.0 799.2 851.9 801.7 845.6 806.2C839.3 810.6 836.9 812.7 830.5 815.2C824.2 817.7 821.2 818.9 815.5 818.2C809.8 817.6 808.8 816.3 803.4 812.2C798.0 808.1 795.2 806.2 789.8 798.6C784.4 791.0 782.5 787.1 777.8 776.0C773.0 764.9 771.3 758.5 767.2 745.8C763.1 733.2 761.0 728.4 758.2 715.7C755.3 703.0 754.8 698.2 753.6 685.5C752.5 672.9 752.6 668.1 752.9 655.4C753.2 642.7 753.9 635.5 755.2 625.2C756.4 614.9 755.1 610.5 758.9 606.4Z" fill="url(#agCar)" filter="url(#ab1)"/>
<g clip-path="url(#acarh)">
<path d="M782.3 625.2C785.9 616.2 799.8 604.4 815.5 602.6C831.1 600.8 846.2 608.6 860.7 616.2C875.2 623.7 880.3 630.7 887.8 640.3C895.4 650.0 900.8 657.2 898.4 664.4C896.0 671.7 883.9 672.3 875.8 676.5C867.6 680.7 864.9 680.1 857.7 685.5C850.4 691.0 847.4 697.0 839.6 703.6C831.7 710.3 826.3 715.1 818.5 718.7C810.6 722.3 802.2 726.5 800.4 721.7C798.6 716.9 806.7 704.8 809.4 694.6C812.1 684.3 816.4 679.8 814.0 670.5C811.5 661.1 803.7 656.9 797.4 647.8C791.0 638.8 778.7 634.3 782.3 625.2Z" fill="#f2b48c" opacity="0.9" filter="url(#ab4)"/>
<path d="M755.2 610.2C759.4 601.7 768.1 601.7 774.8 605.6C781.4 609.6 788.3 616.8 788.3 629.8C788.3 642.7 780.5 659.3 774.8 670.5C769.0 681.6 763.9 690.1 759.7 685.5C755.5 681.0 754.6 662.9 753.6 647.8C752.7 632.8 750.9 618.6 755.2 610.2Z" fill="#ec8a5c" opacity="0.75" filter="url(#ab4)"/>
<path d="M818.5 607.1C824.5 604.1 847.4 612.0 860.7 619.2C874.0 626.4 884.8 637.0 884.8 643.3C884.8 649.7 871.5 652.7 860.7 650.9C849.8 649.1 839.0 643.0 830.5 634.3C822.1 625.5 812.4 610.2 818.5 607.1Z" fill="#fad8be" opacity="0.8" filter="url(#ab4)"/>
<path d="M860.7 682.5C868.2 677.7 874.3 672.9 883.3 673.5C892.4 674.1 899.3 677.1 905.9 685.5C912.6 694.0 915.9 702.1 916.5 715.7C917.1 729.3 914.7 741.9 908.9 753.4C903.2 764.8 897.5 768.5 887.8 773.0C878.2 777.5 870.3 779.9 860.7 776.0C851.0 772.1 844.4 763.9 839.6 753.4C834.8 742.8 835.4 734.4 836.6 723.2C837.8 712.1 840.8 705.7 845.6 697.6C850.4 689.5 853.2 687.3 860.7 682.5Z" fill="#a82a1a" opacity="0.8" filter="url(#ab4)"/>
<path d="M898.4 655.4C900.2 652.4 915.0 670.5 919.5 685.5C924.0 700.6 922.2 712.7 921.0 730.8C919.8 748.9 917.1 764.5 913.5 776.0C909.8 787.5 904.4 794.1 902.9 788.1C901.4 782.0 904.4 763.3 905.9 745.8C907.4 728.4 912.0 718.7 910.4 700.6C908.9 682.5 896.6 658.4 898.4 655.4Z" fill="#e07a54" opacity="0.7" filter="url(#ab4)"/>
<path d="M791.3 643.3C794.4 648.6 797.4 653.1 803.4 664.4C809.4 675.7 812.4 682.5 815.5 688.6" fill="none" stroke="#f8d8c0" stroke-width="5" opacity="0.85" filter="url(#ab2)"/>
<path d="M815.5 640.3C817.0 644.8 817.7 649.4 821.5 658.4C825.3 667.4 828.3 672.0 830.5 676.5" fill="none" stroke="#f8dcc8" stroke-width="4" opacity="0.85" filter="url(#ab2)"/>
<path d="M857.7 628.2C855.4 635.8 855.4 644.8 848.6 658.4C841.8 672.0 841.1 669.7 830.5 682.5C820.0 695.3 812.4 702.9 806.4 709.7" fill="none" stroke="#f6c8a8" stroke-width="4" opacity="0.85" filter="url(#ab2)"/>
<path d="M845.6 688.6C848.6 691.6 853.9 694.6 857.7 700.6C861.4 706.6 859.9 709.7 860.7 712.7" fill="none" stroke="#f4e0d8" stroke-width="7" opacity="0.85" filter="url(#ab2)"/>
<path d="M866.7 703.6C869.0 706.6 875.0 710.4 875.8 715.7C876.5 721.0 871.2 722.5 869.7 724.7" fill="none" stroke="#f0d4cc" stroke-width="4" opacity="0.85" filter="url(#ab2)"/>
<path d="M842.6 664.4C839.6 669.7 838.8 675.0 830.5 685.5C822.2 696.1 814.7 701.4 809.4 706.6" fill="none" stroke="#b03420" stroke-width="2.5" opacity="0.85" filter="url(#ab2)"/>
<path d="M883.3 757.9C884.4 760.9 887.5 764.7 887.8 770.0C888.2 775.2 885.6 776.8 884.8 779.0" fill="none" stroke="#5a1008" stroke-width="3" opacity="0.7" filter="url(#ab1)"/>
</g>
<path d="M757.4 605.6C758.0 603.4 761.0 599.9 764.2 598.8C767.4 597.8 772.0 598.4 773.2 600.4C774.5 602.3 772.6 606.7 770.2 608.6C767.8 610.6 763.7 610.8 761.2 610.2C758.6 609.6 756.8 607.9 757.4 605.6Z" fill="#e0401c" filter="url(#ab1)"/>
<path d="M795.9 721.0C799.1 720.5 808.1 720.5 810.9 723.2C813.8 726.0 816.0 736.8 818.5 742.8C820.9 748.9 829.2 766.8 830.5 771.5C831.9 776.2 830.9 778.8 829.0 780.5C827.1 782.2 819.0 783.7 815.5 785.0C811.9 786.4 803.0 790.5 800.4 791.1C797.7 791.6 796.2 793.3 794.4 789.6C792.5 785.8 787.6 767.3 785.3 760.9C783.0 754.5 777.2 742.1 776.3 738.3C775.3 734.5 776.6 732.2 777.8 730.8C778.9 729.4 783.0 728.2 785.3 727.0C787.6 725.8 792.7 721.4 795.9 721.0Z" fill="url(#apHex)" filter="url(#ab1)"/>
</g>
<rect x="736.5" y="592.0" width="190.5" height="239.0" rx="2.5" fill="none" stroke="#404040" stroke-width="2.2"/>
<text x="750" y="810.5" font-size="20.14" font-weight="bold" fill="#1a1a1a" textLength="40.5" lengthAdjust="spacingAndGlyphs" >2 cm</text>
<rect x="754.5" y="817.5" width="20.5" height="3" fill="#1a1a1a"/>
<g clip-path="url(#aspn)">
<rect x="958" y="593.5" width="108" height="237.5" fill="#040404"/>
<path d="M959.6 595.1C966.6 589.7 989.0 592.7 1000.3 594.3C1011.6 595.9 1018.1 600.0 1024.4 604.1C1030.8 608.2 1032.8 615.7 1036.5 617.7C1040.2 619.7 1042.1 613.3 1045.5 615.4C1049.0 617.5 1053.4 625.4 1056.1 629.8C1058.7 634.1 1060.9 636.6 1060.6 640.3C1060.3 644.0 1056.2 646.6 1054.6 650.9C1053.0 655.1 1050.8 659.7 1051.6 664.4C1052.4 669.2 1058.6 673.8 1059.1 678.0C1059.6 682.2 1057.0 685.6 1054.6 688.5C1052.2 691.5 1046.6 691.1 1045.5 694.6C1044.5 698.0 1045.9 704.5 1048.5 708.1C1051.2 711.8 1059.0 712.8 1060.6 715.7C1062.2 718.6 1060.2 722.1 1057.6 724.7C1055.0 727.4 1047.6 727.1 1045.5 730.8C1043.4 734.5 1043.2 742.4 1045.5 745.8C1047.9 749.3 1057.3 747.7 1059.1 750.4C1060.9 753.0 1058.5 758.3 1056.1 760.9C1053.7 763.6 1047.6 762.8 1045.5 765.4C1043.4 768.1 1042.7 773.4 1044.0 776.0C1045.3 778.6 1052.0 777.9 1053.1 780.5C1054.1 783.2 1051.9 788.2 1050.1 791.1C1048.2 794.0 1043.6 793.9 1042.5 797.1C1041.5 800.3 1046.1 806.0 1044.0 809.2C1041.9 812.3 1034.9 814.7 1030.5 815.2C1026.0 815.7 1021.0 810.6 1018.4 812.2C1015.8 813.8 1017.5 821.1 1015.4 824.2C1013.3 827.4 1009.5 830.8 1006.3 830.3C1003.2 829.7 1001.0 824.9 997.3 821.2C993.6 817.5 987.9 814.4 985.2 809.2C982.6 803.9 983.3 798.2 982.2 791.1C981.2 783.9 980.5 776.4 979.2 768.5C977.9 760.5 976.3 753.8 974.7 745.8C973.1 737.9 970.9 731.1 970.2 723.2C969.4 715.3 970.7 707.2 970.2 700.6C969.6 694.0 968.2 693.4 967.1 685.5C966.1 677.6 965.3 665.9 964.1 655.4C962.9 644.8 961.1 635.8 960.4 625.2C959.6 614.7 952.6 600.5 959.6 595.1Z" fill="url(#agBone)" filter="url(#ab1)"/>
<path d="M970.2 697.6C971.1 692.8 983.7 686.1 989.8 685.5C995.8 684.9 1001.2 689.8 1000.3 694.6C999.4 699.4 991.3 709.1 985.2 709.7C979.2 710.3 969.2 702.4 970.2 697.6Z" fill="#7a6c58" opacity="0.6" filter="url(#ab2)"/>
<path d="M973.2 730.8C974.4 726.2 988.2 720.2 994.3 720.2C1000.3 720.2 1004.5 726.2 1003.3 730.8C1002.1 735.3 994.3 742.8 988.2 742.8C982.2 742.8 972.0 735.3 973.2 730.8Z" fill="#7a6c58" opacity="0.6" filter="url(#ab2)"/>
<path d="M977.7 763.9C979.2 759.4 991.6 753.1 997.3 753.4C1003.0 753.7 1007.8 760.9 1006.3 765.4C1004.8 770.0 995.5 776.3 989.8 776.0C984.0 775.7 976.2 768.5 977.7 763.9Z" fill="#7a6c58" opacity="0.6" filter="url(#ab2)"/>
<path d="M983.7 794.1C984.9 789.9 995.2 784.4 1000.3 785.0C1005.4 785.6 1010.6 792.9 1009.4 797.1C1008.1 801.3 999.4 806.7 994.3 806.1C989.1 805.5 982.5 798.3 983.7 794.1Z" fill="#7a6c58" opacity="0.6" filter="url(#ab2)"/>
<path d="M1030.5 655.4C1033.5 653.0 1043.1 658.4 1045.5 664.4C1047.9 670.5 1045.5 683.1 1042.5 685.5C1039.5 687.9 1032.9 682.5 1030.5 676.5C1028.0 670.5 1027.4 657.8 1030.5 655.4Z" fill="#7a6c58" opacity="0.6" filter="url(#ab2)"/>
<path d="M1033.5 697.6C1036.2 695.8 1043.7 701.2 1045.5 706.6C1047.3 712.1 1045.2 722.9 1042.5 724.7C1039.8 726.5 1033.8 721.1 1032.0 715.7C1030.2 710.3 1030.8 699.4 1033.5 697.6Z" fill="#7a6c58" opacity="0.6" filter="url(#ab2)"/>
<path d="M1033.5 733.8C1035.9 731.4 1043.7 737.4 1045.5 742.8C1047.3 748.2 1044.9 758.5 1042.5 760.9C1040.1 763.3 1035.3 760.3 1033.5 754.9C1031.7 749.5 1031.1 736.2 1033.5 733.8Z" fill="#7a6c58" opacity="0.6" filter="url(#ab2)"/>
<path d="M1030.5 770.0C1032.9 767.5 1040.7 773.6 1042.5 779.0C1044.3 784.4 1041.9 794.7 1039.5 797.1C1037.1 799.5 1032.3 796.5 1030.5 791.1C1028.6 785.6 1028.0 772.4 1030.5 770.0Z" fill="#7a6c58" opacity="0.6" filter="url(#ab2)"/>
<path d="M1000.3 646.3C1002.1 644.7 1006.0 642.9 1010.9 642.6C1015.7 642.3 1022.3 643.2 1024.4 644.8C1026.5 646.5 1024.4 649.5 1021.4 650.9C1018.4 652.2 1013.3 651.6 1009.4 651.6C1005.4 651.6 1003.6 651.9 1001.8 650.9C1000.0 649.8 998.5 648.0 1000.3 646.3Z" fill="#0a0806" filter="url(#ab1)"/>
<path d="M998.8 673.5C1000.9 670.5 1005.7 669.3 1010.9 668.9C1016.0 668.6 1021.6 668.9 1024.4 672.0C1027.3 675.0 1027.6 681.2 1025.2 684.0C1022.8 686.9 1017.3 686.3 1012.4 686.3C1007.4 686.3 1003.0 686.6 1000.3 684.0C997.6 681.5 996.7 676.5 998.8 673.5Z" fill="#0a0806" filter="url(#ab1)"/>
<path d="M1003.3 706.6C1005.4 704.5 1010.4 703.6 1015.4 703.6C1020.4 703.6 1025.8 704.4 1028.2 706.6C1030.6 708.9 1030.0 713.0 1027.4 714.9C1024.9 716.9 1019.9 716.6 1015.4 716.4C1010.9 716.3 1007.2 716.1 1004.8 714.2C1002.4 712.2 1001.2 708.8 1003.3 706.6Z" fill="#0a0806" filter="url(#ab1)"/>
<path d="M1010.9 739.8C1012.5 738.1 1016.4 737.5 1019.9 737.5C1023.4 737.5 1026.8 737.8 1028.2 739.8C1029.6 741.8 1028.6 745.7 1026.7 747.3C1024.7 749.0 1021.4 748.4 1018.4 748.1C1015.4 747.8 1013.1 747.5 1011.6 745.8C1010.1 744.2 1009.2 741.5 1010.9 739.8Z" fill="#0a0806" filter="url(#ab1)"/>
<path d="M1010.9 773.0C1012.2 771.5 1015.5 770.7 1018.4 770.7C1021.3 770.7 1024.1 771.3 1025.2 773.0C1026.2 774.6 1025.3 777.6 1023.7 779.0C1022.0 780.4 1019.3 779.9 1016.9 779.8C1014.5 779.6 1012.8 779.6 1011.6 778.3C1010.4 776.9 1009.5 774.5 1010.9 773.0Z" fill="#0a0806" filter="url(#ab1)"/>
<path d="M1014.8 621 V637 M1018.2 621 V637" stroke="#1a8ac8" stroke-width="3.4"/><path d="M1010.5 635.5 L1016.5 645 L1022.5 635.5 Z" fill="#1a8ac8"/>
</g>
<text x="963" y="613" font-size="17.49" font-weight="bold" fill="#e81c24" textLength="73" lengthAdjust="spacingAndGlyphs" opacity="0.92">Graphene</text>
<text x="963" y="634" font-size="17.49" font-weight="bold" fill="#e81c24" textLength="43" lengthAdjust="spacingAndGlyphs" opacity="0.92">Insert</text>
<text x="511" y="948.5" font-size="26.5" font-weight="bold" fill="#1c1c1c" textLength="133.5" lengthAdjust="spacingAndGlyphs" stroke="#1c1c1c" stroke-width="0.2">Electronics</text>
<text x="503.5" y="984" font-size="26.5" font-weight="bold" fill="#1c1c1c" textLength="147.5" lengthAdjust="spacingAndGlyphs" stroke="#1c1c1c" stroke-width="0.2">Applications</text>
<text x="751.5" y="948.5" font-size="26.5" font-weight="bold" fill="#1c1c1c" textLength="170" lengthAdjust="spacingAndGlyphs" stroke="#1c1c1c" stroke-width="0.2">Bioelectronics</text>
<text x="762.5" y="984.5" font-size="26.5" font-weight="bold" fill="#1c1c1c" textLength="149.5" lengthAdjust="spacingAndGlyphs" stroke="#1c1c1c" stroke-width="0.2">Applications</text>
<path d="M695 938H706V951H717.5V962.5H706V975.5H695V962.5H683.5V951H695Z" fill="#0c0c0c"/>
<path d="M498.6 879.6 L489.2 898.8 L500.3 905.9 L483.7 931.5 L488.6 940.0 L471.5 965.6 L475.8 970.9 L456.6 998.7 L459.8 1009.3 L422.4 1033.9 L440.6 1010.4 L436.3 998.7 L455.5 974.1 L451.2 968.8 L467.2 943.2 L461.9 935.7 L480.0 910.1 L474.7 901.6 Z" fill="#23262e" stroke="#23262e" stroke-width="1.5" stroke-linejoin="round"/>
<path d="M498.6 879.6 L489.2 898.8 L500.3 905.9 L483.7 931.5 L488.6 940.0 L471.5 965.6 L475.8 970.9 L456.6 998.7 L459.8 1009.3 L422.4 1033.9 L440.6 1010.4 L436.3 998.7 L455.5 974.1 L451.2 968.8 L467.2 943.2 L461.9 935.7 L480.0 910.1 L474.7 901.6 Z" fill="#fff" filter="url(#aBn)" opacity="0.6"/>
<path d="M1004.6 924.0C999.0 923.4 999.0 914.7 992.8 911.2C986.6 907.7 981.3 906.5 973.6 906.5C966.0 906.5 960.8 907.3 954.4 911.2C948.0 915.1 944.6 919.3 941.6 926.1C938.6 933.0 938.2 937.7 939.5 945.3C940.8 953.0 943.3 957.3 948.0 964.5C952.7 971.8 956.6 975.2 963.0 981.6C969.4 988.0 973.2 991.0 980.0 996.5C986.9 1002.1 991.6 1004.7 997.1 1009.3C1002.7 1014.0 1002.6 1020.0 1007.8 1019.6C1012.9 1019.2 1015.9 1013.5 1022.7 1007.2C1029.5 1000.9 1034.7 996.1 1041.9 988.0C1049.2 979.9 1053.6 975.2 1059.0 966.7C1064.3 958.1 1066.9 953.9 1068.6 945.3C1070.3 936.8 1069.9 930.8 1067.5 924.0C1065.2 917.2 1062.4 914.3 1056.8 911.2C1051.3 908.1 1047.0 908.0 1039.8 908.6C1032.5 909.3 1027.6 911.3 1020.6 914.4C1013.5 917.5 1010.1 924.6 1004.6 924.0Z" fill="none" stroke="#0a0a0a" stroke-width="8.5" stroke-linejoin="round"/>
<path d="M1051.5 878.8 L1041.9 895.2 L1044.0 902.7 L1027.0 924.0 L1020.6 930.4 L1035.5 942.1 L1014.2 960.3 L1016.3 974.1 L988.6 988.0 L992.8 1009.3 L969.4 1017.9 L939.9 1033.9 L958.7 1010.4 L960.8 996.5 L980.0 983.7 L984.3 966.7 L1009.9 947.5 L999.2 934.7 L1005.6 919.7 L1020.6 905.9 L1020.6 897.3 Z" fill="#0a0a0a" stroke="#0a0a0a" stroke-width="2" stroke-linejoin="round"/>
<path d="M1003.5 926.1C1008.3 922.4 1013.1 915.7 1022.7 911.2C1032.3 906.7 1033.4 907.7 1041.9 908.0C1050.4 908.3 1053.1 911.2 1056.8 912.3" fill="none" stroke="#0a0a0a" stroke-width="5"/>
<g clip-path="url(#bclip)">
<rect x="1169" y="13" width="616" height="489" fill="url(#bbg)"/>
<rect x="1169" y="13" width="616" height="489" fill="url(#btop)"/>
<rect x="1169" y="13" width="616" height="489" fill="url(#bgr)"/>
<rect x="1169" y="13" width="616" height="489" fill="url(#bcy)"/>
<path d="M1160 5 L1160 105 C1200 150 1250 180 1302 192 C1350 200 1400 198 1444 190 C1500 176 1560 143 1610 108 C1650 78 1680 48 1702 5 Z" fill="url(#bup)" filter="url(#bl8)"/>
<path d="M1690 230 C1730 215 1770 160 1782 90 L1785 250 Z" fill="#e8e4ec" opacity="0.7" filter="url(#bl4)"/>
<path d="M1160 92 C1200 140 1250 172 1302 184 C1350 193 1400 191 1444 182 C1500 168 1560 135 1610 100 C1650 70 1680 40 1702 10" fill="none" stroke="url(#bwire)" stroke-width="10" stroke-linecap="round" filter="url(#bl1)"/>
<path d="M1480 166 C1540 140 1600 100 1640 66 C1665 44 1685 24 1696 10" fill="none" stroke="#f0d8e0" stroke-width="2" opacity="0.55" transform="translate(5 4)" filter="url(#bl1)"/>
<path d="M1300 493 C1350 482 1395 455 1430 420 C1470 378 1510 335 1545 295 C1570 262 1590 232 1612 216 C1640 196 1668 204 1682 232 C1694 262 1688 300 1668 340" fill="none" stroke="#1a2348" stroke-width="9.5" stroke-linecap="round" filter="url(#bl1)"/>
<path d="M1612 216 C1640 196 1668 204 1682 232 C1694 262 1688 300 1668 340" fill="none" stroke="#14161c" stroke-width="15" stroke-linecap="round" filter="url(#bl1)"/>
<path d="M1300 493 C1330 488 1350 478 1370 466" fill="none" stroke="#1c3cb0" stroke-width="10" stroke-linecap="round" filter="url(#bl1)"/>
<path d="M1318 236 L1480 198 L1660 169" fill="none" stroke="#3a3c48" stroke-width="5" filter="url(#bl1)"/>
<path d="M1318 235 L1400 216" fill="none" stroke="#2860d8" stroke-width="4" filter="url(#bl1)"/>
<path d="M1480 197 L1660 168" fill="none" stroke="#a0a0a4" stroke-width="1.6"/>
<path d="M1312 266 C1380 290 1460 335 1530 383" fill="none" stroke="#50586c" stroke-width="4.5" filter="url(#bl1)"/>
<path d="M1312 266 C1380 290 1460 335 1530 383" fill="none" stroke="#e8ece8" stroke-width="2"/>
<path d="M1757 16 L1745 64" stroke="#c8c0b8" stroke-width="8" filter="url(#bl1)"/>
<path d="M1757 16 L1745 64" stroke="#8a7e74" stroke-width="8" stroke-dasharray="2 3" opacity="0.6"/>
<rect x="1747" y="10" width="24" height="13" rx="4" fill="#e02848" filter="url(#bl1)"/>
<path d="M1701 52 C1730 56 1760 64 1779 78 C1782 100 1776 140 1767 172 C1756 200 1745 215 1731 219 C1705 216 1675 205 1659 190 C1653 165 1658 120 1668 96 C1676 74 1688 58 1701 52 Z" fill="url(#bcylA)" filter="url(#bl1)"/>
<path d="M1779 78 C1782 100 1776 140 1767 172 C1756 200 1745 215 1731 219 C1728 190 1738 120 1756 76 Z" fill="url(#brib)" opacity="0.75" filter="url(#bl1)"/>
<path d="M1597 303 C1620 312 1660 334 1684 353 C1689 366 1680 405 1649 453 C1635 472 1615 488 1602 489 C1585 482 1545 450 1526 429 C1520 410 1535 372 1558 341 C1570 325 1585 308 1597 303 Z" fill="url(#bcylB)" filter="url(#bl1)"/>
<path d="M1684 353 C1689 366 1680 405 1649 453 C1635 472 1615 488 1602 489 C1596 460 1610 400 1655 340 Z" fill="url(#brib)" opacity="0.7" filter="url(#bl1)"/>
<path d="M1570 332 L1660 378 M1562 343 L1652 390 M1580 322 L1668 366" stroke="#1a1a1c" stroke-width="3" opacity="0.6" fill="none" filter="url(#bl1)"/>
<path d="M1607 130 H1640 V121 L1659 137 L1640 154 V145 H1607 Z" fill="url(#barrw)" stroke="#9a9aa0" stroke-width="1.2" filter="url(#bl1)"/>
<path d="M1580 197 L1599 196 L1611 280 L1622 278 L1605 301 L1584 284 L1593 282 Z" fill="url(#barrw2)" stroke="#4a4a4a" stroke-width="1.6" filter="url(#bl1)"/>
<path d="M1286 210 L1296 236 L1318 232 L1304 262 L1312 268 L1302 296 L1290 288 L1270 286 L1262 300 L1250 298 L1244 312 L1200 322 L1184 310 L1188 270 L1196 256 L1216 250 L1222 232 L1232 240 L1240 256 L1258 250 L1268 236 Z" fill="#ffffff" filter="url(#bl1)"/>
<path d="M1200 262 L1196 300 L1212 306 M1222 238 L1226 280 M1212 300 L1258 284 M1240 270 L1262 266 M1240 282 L1256 278" stroke="#20f0ff" stroke-width="3" fill="none" filter="url(#bl1)"/>
<rect x="1170" y="13" width="91" height="82" fill="#ffffff"/>
<rect x="1170" y="446" width="138" height="56" fill="#ffffff"/>
</g>
<rect x="1168.5" y="12.5" width="617" height="490" fill="none" stroke="#5a5a66" stroke-width="2.6"/>
<text x="1176" y="83.5" font-size="72" font-weight="bold" fill="#000" textLength="83" lengthAdjust="spacingAndGlyphs" >(b)</text>
<text x="1187.5" y="485" font-size="39.5" font-weight="bold" fill="#0a0a0a" textLength="101.5" lengthAdjust="spacingAndGlyphs" >5 mm</text>
<rect x="1205.5" y="493" width="62.5" height="3.8" fill="#111"/>
<text x="1208" y="361.5" font-size="32" font-weight="bold" fill="#0a0a0a" textLength="73.5" lengthAdjust="spacingAndGlyphs" >Blue</text>
<text x="1210.5" y="404" font-size="32" font-weight="bold" fill="#0a0a0a" textLength="67.5" lengthAdjust="spacingAndGlyphs" >LED</text>
<text x="1501" y="134" font-size="40" font-weight="bold" fill="#fdf52a" textLength="80.5" lengthAdjust="spacingAndGlyphs" stroke="#8a7a10" stroke-width="1.2" paint-order="stroke" style="filter:drop-shadow(1.5px 1.5px 1px rgba(60,50,0,0.6))">3DG</text>
<text x="1450" y="178" font-size="40" font-weight="bold" fill="#fdf52a" textLength="181" lengthAdjust="spacingAndGlyphs" stroke="#8a7a10" stroke-width="1.2" paint-order="stroke" style="filter:drop-shadow(1.5px 1.5px 1px rgba(60,50,0,0.6))">Cylinders</text>
<rect x="1796" y="12" width="663" height="491" fill="#ffffff" stroke="#6a6a6a" stroke-width="2.6"/>
<rect x="1927" y="61" width="406" height="330" fill="none" stroke="#161616" stroke-width="3.2"/>
<path d="M1927.0 385V397M1927.0 57V67M1967.6 387.5V394.5M1967.6 59.5V64.5M2008.2 385V397M2008.2 57V67M2048.8 387.5V394.5M2048.8 59.5V64.5M2089.4 385V397M2089.4 57V67M2130.0 387.5V394.5M2130.0 59.5V64.5M2170.6 385V397M2170.6 57V67M2211.2 387.5V394.5M2211.2 59.5V64.5M2251.8 385V397M2251.8 57V67M2292.4 387.5V394.5M2292.4 59.5V64.5M2333.0 385V397M2333.0 57V67M1920 61.0H1932M1923 94.0H1929M1920 127.0H1932M1923 160.0H1929M1920 193.0H1932M1923 226.0H1929M1920 259.0H1932M1923 292.0H1929M1920 325.0H1932M1923 358.0H1929M1920 391.0H1932M2328 61.0H2340M2331 88.5H2337M2328 116.0H2340M2331 143.5H2337M2328 171.0H2340M2331 198.5H2337M2328 226.0H2340M2331 253.5H2337M2328 281.0H2340M2331 308.5H2337M2328 336.0H2340M2331 363.5H2337M2328 391.0H2340" stroke="#161616" stroke-width="2.6" fill="none"/>
<path d="M2130 61V391" stroke="#161616" stroke-width="2.6" stroke-dasharray="2.6 2.6" fill="none"/>
<text x="1868" y="69.0" font-size="24.5" font-weight="bold" fill="#161616" textLength="48" lengthAdjust="spacingAndGlyphs" >0.20</text>
<text x="1868" y="135.0" font-size="24.5" font-weight="bold" fill="#161616" textLength="48" lengthAdjust="spacingAndGlyphs" >0.18</text>
<text x="1868" y="201.0" font-size="24.5" font-weight="bold" fill="#161616" textLength="48" lengthAdjust="spacingAndGlyphs" >0.16</text>
<text x="1868" y="267.0" font-size="24.5" font-weight="bold" fill="#161616" textLength="48" lengthAdjust="spacingAndGlyphs" >0.14</text>
<text x="1868" y="333.0" font-size="24.5" font-weight="bold" fill="#161616" textLength="48" lengthAdjust="spacingAndGlyphs" >0.12</text>
<text x="1868" y="399.0" font-size="24.5" font-weight="bold" fill="#161616" textLength="48" lengthAdjust="spacingAndGlyphs" >0.10</text>
<text x="2344" y="69.0" font-size="24.5" font-weight="bold" fill="#161616" textLength="39" lengthAdjust="spacingAndGlyphs" >120</text>
<text x="2344" y="124.0" font-size="24.5" font-weight="bold" fill="#161616" textLength="39" lengthAdjust="spacingAndGlyphs" >100</text>
<text x="2344" y="179.0" font-size="24.5" font-weight="bold" fill="#161616" textLength="26" lengthAdjust="spacingAndGlyphs" >80</text>
<text x="2344" y="234.0" font-size="24.5" font-weight="bold" fill="#161616" textLength="26" lengthAdjust="spacingAndGlyphs" >60</text>
<text x="2344" y="289.0" font-size="24.5" font-weight="bold" fill="#161616" textLength="26" lengthAdjust="spacingAndGlyphs" >40</text>
<text x="2344" y="344.0" font-size="24.5" font-weight="bold" fill="#161616" textLength="26" lengthAdjust="spacingAndGlyphs" >20</text>
<text x="2344" y="399.0" font-size="24.5" font-weight="bold" fill="#161616" textLength="13" lengthAdjust="spacingAndGlyphs" >0</text>
<text x="1920.5" y="422" font-size="24.5" font-weight="bold" fill="#161616" textLength="13" lengthAdjust="spacingAndGlyphs" >0</text>
<text x="1995.2" y="422" font-size="24.5" font-weight="bold" fill="#161616" textLength="26" lengthAdjust="spacingAndGlyphs" >50</text>
<text x="2069.9" y="422" font-size="24.5" font-weight="bold" fill="#161616" textLength="39" lengthAdjust="spacingAndGlyphs" >100</text>
<text x="2151.1" y="422" font-size="24.5" font-weight="bold" fill="#161616" textLength="39" lengthAdjust="spacingAndGlyphs" >150</text>
<text x="2232.3" y="422" font-size="24.5" font-weight="bold" fill="#161616" textLength="39" lengthAdjust="spacingAndGlyphs" >200</text>
<text x="2313.5" y="422" font-size="24.5" font-weight="bold" fill="#161616" textLength="39" lengthAdjust="spacingAndGlyphs" >250</text>
<text x="1913" y="463" font-size="31" font-weight="bold" fill="#161616" textLength="435" lengthAdjust="spacingAndGlyphs" >Annealing Temperature (°C)</text>
<text font-size="32" font-weight="bold" fill="#e8141c" textLength="276" lengthAdjust="spacingAndGlyphs" transform="translate(1859 357) rotate(-90)" >Resistivity (Ω·cm)</text>
<text font-size="32" font-weight="bold" fill="#1a1acc" textLength="285" lengthAdjust="spacingAndGlyphs" transform="translate(2394 104) rotate(90)" >Norm. Volume (%)</text>
<path d="M1968 100V132.5M1964.5 100H1971.5M1964.5 132.5H1971.5" stroke="#1818c8" stroke-width="1.8" fill="none"/>
<circle cx="1968" cy="115" r="4.2" fill="#1818c8"/>
<path d="M2008.6 86V132.5M2005.1 86H2012.1M2005.1 132.5H2012.1" stroke="#1818c8" stroke-width="1.8" fill="none"/>
<circle cx="2008.6" cy="109" r="4.2" fill="#1818c8"/>
<path d="M2089.7 94V127M2086.2 94H2093.2M2086.2 127H2093.2" stroke="#1818c8" stroke-width="1.8" fill="none"/>
<circle cx="2089.7" cy="110.5" r="4.2" fill="#1818c8"/>
<path d="M2170.5 87V129M2167.0 87H2174.0M2167.0 129H2174.0" stroke="#1818c8" stroke-width="1.8" fill="none"/>
<circle cx="2170.5" cy="107" r="4.2" fill="#1818c8"/>
<rect x="2248" y="108" width="7" height="10.5" fill="#1818c8"/>
<path d="M1968 249V289M1964.5 249H1971.5M1964.5 289H1971.5" stroke="#e01018" stroke-width="1.6" fill="none"/>
<circle cx="1968" cy="268" r="3.8" fill="#e01018"/>
<path d="M2008.6 322V379M2005.1 322H2012.1M2005.1 379H2012.1" stroke="#e01018" stroke-width="1.6" fill="none"/>
<circle cx="2008.6" cy="350" r="3.8" fill="#e01018"/>
<path d="M2089.7 336V351M2086.2 336H2093.2M2086.2 351H2093.2" stroke="#e01018" stroke-width="1.6" fill="none"/>
<circle cx="2089.7" cy="343.6" r="3.8" fill="#e01018"/>
<path d="M2170.5 191V284.5M2167.0 191H2174.0M2167.0 284.5H2174.0" stroke="#e01018" stroke-width="1.6" fill="none"/>
<circle cx="2170.5" cy="237.6" r="3.8" fill="#e01018"/>
<path d="M2251.7 255V284.5M2248.2 255H2255.2M2248.2 284.5H2255.2" stroke="#e01018" stroke-width="1.6" fill="none"/>
<circle cx="2251.7" cy="269" r="3.8" fill="#e01018"/>
<path d="M2095 140.6H2164M2157 135L2165 140.6L2157 146.2" stroke="#1818c8" stroke-width="2" fill="none"/>
<path d="M2137 240H2066M2073 234.4L2065 240L2073 245.6" stroke="#e01018" stroke-width="2" fill="none"/>
<rect x="1168" y="510" width="622" height="427.5" fill="#ffffff" stroke="#6a6a6a" stroke-width="2.6"/>
<rect x="1276" y="527" width="487" height="327" fill="none" stroke="#161616" stroke-width="3.3"/>
<path d="M1276.0 847V860M1276.0 527V534M1336.9 850V857M1336.9 527V531M1397.8 847V860M1397.8 527V534M1458.6 850V857M1458.6 527V531M1519.5 847V860M1519.5 527V534M1580.4 850V857M1580.4 527V531M1641.2 847V860M1641.2 527V534M1702.1 850V857M1702.1 527V531M1763.0 847V860M1763.0 527V534M1269 527.0H1284M1755 527.0H1763M1273 567.9H1280M1759 567.9H1763M1269 608.8H1284M1755 608.8H1763M1273 649.6H1280M1759 649.6H1763M1269 690.5H1284M1755 690.5H1763M1273 731.4H1280M1759 731.4H1763M1269 772.2H1284M1755 772.2H1763M1273 813.1H1280M1759 813.1H1763M1269 854.0H1284M1755 854.0H1763" stroke="#161616" stroke-width="2.6" fill="none"/>
<text x="1220.5" y="535.0" font-size="23.5" font-weight="bold" fill="#161616" textLength="42.5" lengthAdjust="spacingAndGlyphs" >800</text>
<text x="1220.5" y="616.75" font-size="23.5" font-weight="bold" fill="#161616" textLength="42.5" lengthAdjust="spacingAndGlyphs" >600</text>
<text x="1220.5" y="698.5" font-size="23.5" font-weight="bold" fill="#161616" textLength="42.5" lengthAdjust="spacingAndGlyphs" >400</text>
<text x="1220.5" y="780.25" font-size="23.5" font-weight="bold" fill="#161616" textLength="42.5" lengthAdjust="spacingAndGlyphs" >200</text>
<text x="1249" y="862.0" font-size="23.5" font-weight="bold" fill="#161616" textLength="14" lengthAdjust="spacingAndGlyphs" >0</text>
<text x="1269.0" y="883.5" font-size="23.5" font-weight="bold" fill="#161616" textLength="14" lengthAdjust="spacingAndGlyphs" >0</text>
<text x="1383.5" y="883.5" font-size="23.5" font-weight="bold" fill="#161616" textLength="28.5" lengthAdjust="spacingAndGlyphs" >20</text>
<text x="1505.25" y="883.5" font-size="23.5" font-weight="bold" fill="#161616" textLength="28.5" lengthAdjust="spacingAndGlyphs" >40</text>
<text x="1627.0" y="883.5" font-size="23.5" font-weight="bold" fill="#161616" textLength="28.5" lengthAdjust="spacingAndGlyphs" >60</text>
<text x="1748.75" y="883.5" font-size="23.5" font-weight="bold" fill="#161616" textLength="28.5" lengthAdjust="spacingAndGlyphs" >80</text>
<text x="1304" y="925" font-size="30" font-weight="bold" fill="#161616" textLength="433" lengthAdjust="spacingAndGlyphs" >Particle Loading (% Vol.)</text>
<text font-size="31" font-weight="bold" fill="#161616" textLength="274" lengthAdjust="spacingAndGlyphs" transform="translate(1206.5 869) rotate(-90)" >Conductivity (S/m)</text>
<path d="M1398 821.5V834.5M1393.5 821.5H1402.5M1393.5 834.5H1402.5" stroke="#444" stroke-width="1.7" fill="none"/>
<circle cx="1398" cy="827.7" r="0" fill="#444"/>
<ellipse cx="1398" cy="827.7" rx="5.6" ry="4.8" fill="#0c0c0c"/>
<path d="M1520.4 595.6V652M1515.9 595.6H1524.9M1515.9 652H1524.9" stroke="#444" stroke-width="1.7" fill="none"/>
<circle cx="1520.4" cy="624" r="0" fill="#444"/>
<ellipse cx="1520.4" cy="624" rx="5.6" ry="4.8" fill="#0c0c0c"/>
<path d="M1642 568V614M1637.5 568H1646.5M1637.5 614H1646.5" stroke="#444" stroke-width="1.7" fill="none"/>
<circle cx="1642" cy="591" r="0" fill="#444"/>
<ellipse cx="1642" cy="591" rx="5.6" ry="4.8" fill="#0c0c0c"/>
<rect x="1796" y="510" width="663" height="427" fill="#ffffff" stroke="#6a6a6a" stroke-width="2.6"/>
<rect x="1917.5" y="524" width="501.0" height="314.5" fill="none" stroke="#161616" stroke-width="3.3"/>
<path d="M1917.5 832.5V844.5M1917.5 524V530M1963.0 834.5V842.5M1963.0 524V528M2008.5 832.5V844.5M2008.5 524V530M2054.0 834.5V842.5M2054.0 524V528M2099.5 832.5V844.5M2099.5 524V530M2145.1 834.5V842.5M2145.1 524V528M2190.6 832.5V844.5M2190.6 524V530M2236.1 834.5V842.5M2236.1 524V528M2281.6 832.5V844.5M2281.6 524V530M2327.1 834.5V842.5M2327.1 524V528M2372.6 832.5V844.5M2372.6 524V530M1914.5 829.5H1922.5M2413.5 829.5H2418.5M1914.5 822.3H1922.5M2413.5 822.3H2418.5M1914.5 815.9H1922.5M2413.5 815.9H2418.5M1910.5 810.2H1926.5M2409.5 810.2H2418.5M1914.5 772.7H1922.5M2413.5 772.7H2418.5M1914.5 750.8H1922.5M2413.5 750.8H2418.5M1914.5 735.2H1922.5M2413.5 735.2H2418.5M1914.5 723.1H1922.5M2413.5 723.1H2418.5M1914.5 713.2H1922.5M2413.5 713.2H2418.5M1914.5 704.9H1922.5M2413.5 704.9H2418.5M1914.5 697.7H1922.5M2413.5 697.7H2418.5M1914.5 691.3H1922.5M2413.5 691.3H2418.5M1910.5 685.6H1926.5M2409.5 685.6H2418.5M1914.5 648.1H1922.5M2413.5 648.1H2418.5M1914.5 626.2H1922.5M2413.5 626.2H2418.5M1914.5 610.6H1922.5M2413.5 610.6H2418.5M1914.5 598.5H1922.5M2413.5 598.5H2418.5M1914.5 588.6H1922.5M2413.5 588.6H2418.5M1914.5 580.3H1922.5M2413.5 580.3H2418.5M1914.5 573.1H1922.5M2413.5 573.1H2418.5M1914.5 566.7H1922.5M2413.5 566.7H2418.5M1910.5 561.0H1926.5M2409.5 561.0H2418.5" stroke="#161616" stroke-width="2.3" fill="none"/>
<text x="1874.5" y="569" font-size="23.5" font-weight="bold" fill="#161616" textLength="29" lengthAdjust="spacingAndGlyphs" >10</text>
<text x="1891.5" y="693.6" font-size="23.5" font-weight="bold" fill="#161616" textLength="12" lengthAdjust="spacingAndGlyphs" >1</text>
<text x="1868.0" y="818" font-size="23.5" font-weight="bold" fill="#161616" textLength="35.5" lengthAdjust="spacingAndGlyphs" >0.1</text>
<text x="1892.0" y="866.5" font-size="23.5" font-weight="bold" fill="#161616" textLength="51" lengthAdjust="spacingAndGlyphs" >0.00</text>
<text x="1983.02" y="866.5" font-size="23.5" font-weight="bold" fill="#161616" textLength="51" lengthAdjust="spacingAndGlyphs" >0.04</text>
<text x="2074.04" y="866.5" font-size="23.5" font-weight="bold" fill="#161616" textLength="51" lengthAdjust="spacingAndGlyphs" >0.08</text>
<text x="2165.06" y="866.5" font-size="23.5" font-weight="bold" fill="#161616" textLength="51" lengthAdjust="spacingAndGlyphs" >0.12</text>
<text x="2256.08" y="866.5" font-size="23.5" font-weight="bold" fill="#161616" textLength="51" lengthAdjust="spacingAndGlyphs" >0.16</text>
<text x="2347.1" y="866.5" font-size="23.5" font-weight="bold" fill="#161616" textLength="51" lengthAdjust="spacingAndGlyphs" >0.20</text>
<text x="2113" y="916" font-size="34" font-weight="bold" fill="#161616" textLength="88" lengthAdjust="spacingAndGlyphs" >ΔL/L</text>
<text x="2203" y="925" font-size="23" font-weight="bold" fill="#161616" textLength="17" lengthAdjust="spacingAndGlyphs" >0</text>
<text font-size="33" font-weight="bold" fill="#161616" textLength="81" lengthAdjust="spacingAndGlyphs" transform="translate(1840 729) rotate(-90)" >ΔR/R</text>
<text font-size="20" font-weight="bold" fill="#161616" textLength="13" lengthAdjust="spacingAndGlyphs" transform="translate(1853 644) rotate(-90)" >0</text>
<path d="M1963.3 721.1V828.5M1958.8 721.1H1967.8M1958.8 828.5H1967.8" stroke="#444" stroke-width="1.7" fill="none"/>
<circle cx="1963.3" cy="752.8" r="0" fill="#444"/>
<ellipse cx="1963.3" cy="752.8" rx="5.8" ry="5" fill="#0c0c0c"/>
<path d="M2008.6 677.5V723.4M2004.1 677.5H2013.1M2004.1 723.4H2013.1" stroke="#444" stroke-width="1.7" fill="none"/>
<circle cx="2008.6" cy="695.9" r="0" fill="#444"/>
<ellipse cx="2008.6" cy="695.9" rx="5.8" ry="5" fill="#0c0c0c"/>
<path d="M2054.8 629.7V705.0M2050.3 629.7H2059.3M2050.3 705.0H2059.3" stroke="#444" stroke-width="1.7" fill="none"/>
<circle cx="2054.8" cy="655.5" r="0" fill="#444"/>
<ellipse cx="2054.8" cy="655.5" rx="5.8" ry="5" fill="#0c0c0c"/>
<path d="M2100.0 618.3V668.8M2095.5 618.3H2104.5M2095.5 668.8H2104.5" stroke="#444" stroke-width="1.7" fill="none"/>
<circle cx="2100.0" cy="638.1" r="0" fill="#444"/>
<ellipse cx="2100.0" cy="638.1" rx="5.8" ry="5" fill="#0c0c0c"/>
<path d="M2145.3 605.7V651.0M2140.8 605.7H2149.8M2140.8 651.0H2149.8" stroke="#444" stroke-width="1.7" fill="none"/>
<circle cx="2145.3" cy="624.2" r="0" fill="#444"/>
<ellipse cx="2145.3" cy="624.2" rx="5.8" ry="5" fill="#0c0c0c"/>
<path d="M2190.6 595.1V641.3M2186.1 595.1H2195.1M2186.1 641.3H2195.1" stroke="#444" stroke-width="1.7" fill="none"/>
<circle cx="2190.6" cy="613.8" r="0" fill="#444"/>
<ellipse cx="2190.6" cy="613.8" rx="5.8" ry="5" fill="#0c0c0c"/>
<path d="M2236.5 581.2V633.2M2232.0 581.2H2241.0M2232.0 633.2H2241.0" stroke="#444" stroke-width="1.7" fill="none"/>
<circle cx="2236.5" cy="601.9" r="0" fill="#444"/>
<ellipse cx="2236.5" cy="601.9" rx="5.8" ry="5" fill="#0c0c0c"/>
<path d="M2281.7 569.2V618.7M2277.2 569.2H2286.2M2277.2 618.7H2286.2" stroke="#444" stroke-width="1.7" fill="none"/>
<circle cx="2281.7" cy="588.6" r="0" fill="#444"/>
<ellipse cx="2281.7" cy="588.6" rx="5.8" ry="5" fill="#0c0c0c"/>
<path d="M2327.3 555.6V599.9M2322.8 555.6H2331.8M2322.8 599.9H2331.8" stroke="#444" stroke-width="1.7" fill="none"/>
<circle cx="2327.3" cy="574.1" r="0" fill="#444"/>
<ellipse cx="2327.3" cy="574.1" rx="5.8" ry="5" fill="#0c0c0c"/>
<path d="M2372.6 545.6V584.4M2368.1 545.6H2377.1M2368.1 584.4H2377.1" stroke="#444" stroke-width="1.7" fill="none"/>
<circle cx="2372.6" cy="561.8" r="0" fill="#444"/>
<ellipse cx="2372.6" cy="561.8" rx="5.8" ry="5" fill="#0c0c0c"/>
<g clip-path="url(#c1clip)">
<rect x="769" y="1149" width="518" height="410" fill="#edf5f0"/>
<rect x="769" y="1149" width="62" height="410" fill="#dcebe4"/>
<path d="M829.2 1149.3C839.0 1138.7 869.0 1129.3 879.7 1149.3C890.4 1169.3 882.9 1210.3 882.9 1249.2C882.9 1288.2 881.6 1306.0 879.7 1343.9C877.8 1381.7 874.7 1406.9 873.4 1438.5C872.1 1470.0 882.2 1488.9 873.4 1501.6C864.6 1514.2 841.5 1507.9 829.2 1501.6C816.9 1495.2 814.4 1485.8 811.9 1470.0C809.4 1454.2 813.2 1441.6 816.6 1422.7C820.1 1403.8 825.8 1403.8 829.2 1375.4C832.7 1347.0 833.7 1315.5 834.0 1280.8C834.3 1246.1 831.8 1228.2 830.8 1201.9C829.9 1175.6 819.5 1159.8 829.2 1149.3Z" fill="#f0c4de" filter="url(#cb3)"/>
<path d="M829.2 1149.3C839.0 1138.7 869.0 1129.3 879.7 1149.3C890.4 1169.3 882.9 1210.3 882.9 1249.2C882.9 1288.2 881.6 1306.0 879.7 1343.9C877.8 1381.7 874.7 1406.9 873.4 1438.5C872.1 1470.0 882.2 1488.9 873.4 1501.6C864.6 1514.2 841.5 1507.9 829.2 1501.6C816.9 1495.2 814.4 1485.8 811.9 1470.0C809.4 1454.2 813.2 1441.6 816.6 1422.7C820.1 1403.8 825.8 1403.8 829.2 1375.4C832.7 1347.0 833.7 1315.5 834.0 1280.8C834.3 1246.1 831.8 1228.2 830.8 1201.9C829.9 1175.6 819.5 1159.8 829.2 1149.3Z" fill="#fff" filter="url(#tPinkDotsD)"/>
<path d="M871.8 1149.3C873.7 1123.0 880.3 1123.0 882.9 1149.3C885.4 1175.6 885.1 1235.5 884.4 1280.8C883.8 1326.0 882.2 1337.5 879.7 1375.4C877.2 1413.2 875.6 1444.8 871.8 1470.0C868.0 1495.2 866.8 1495.2 860.8 1501.6C854.8 1507.9 842.5 1511.0 841.9 1501.6C841.2 1492.1 852.6 1479.5 857.6 1454.2C862.7 1429.0 863.9 1410.1 867.1 1375.4C870.2 1340.7 872.4 1326.0 873.4 1280.8C874.3 1235.5 869.9 1175.6 871.8 1149.3Z" fill="#e84aa4" opacity="0.85" filter="url(#cb3)"/>
<rect x="880" y="1149" width="407" height="410" fill="#f8e4f0" opacity="0.45"/>
<rect x="860" y="1149" width="427" height="410" fill="#fff" filter="url(#tPinkNet)" opacity="0.9"/>
<rect x="860" y="1149" width="427" height="410" fill="#fff" filter="url(#tPinkNet2)" opacity="0.6"/>
<rect x="860" y="1149" width="427" height="410" fill="#fff" opacity="0.8" filter="url(#tPinkDots)"/>
<path d="M955.4 1559.3C892.2 1554.0 952.2 1539.6 971.2 1533.1C990.1 1526.6 1015.3 1525.5 1050.0 1526.8C1084.7 1528.1 1106.8 1539.4 1144.6 1539.4C1182.5 1539.4 1210.7 1528.1 1239.3 1526.8C1267.8 1525.5 1277.6 1526.6 1287.2 1533.1C1296.8 1539.6 1353.6 1554.0 1287.2 1559.3C1220.8 1564.5 1018.6 1564.5 955.4 1559.3Z" fill="#ee8cc4" opacity="0.6" filter="url(#cb6)"/>
<path d="M879.7 1149.3C890.3 1142.2 907.5 1147.7 923.9 1154.6C940.2 1161.5 943.6 1167.8 952.2 1179.9C960.9 1191.9 963.0 1196.9 962.3 1208.2C961.6 1219.6 957.7 1222.5 949.1 1230.3C940.4 1238.1 935.9 1241.2 923.9 1242.9C911.8 1244.7 905.1 1243.9 895.5 1238.2C885.9 1232.5 885.5 1229.4 881.3 1217.7C877.0 1206.0 876.9 1201.6 876.5 1186.2C876.2 1170.8 869.1 1156.4 879.7 1149.3Z" fill="#0a0608" filter="url(#rough)"/>
<path d="M879.7 1277.6C888.6 1270.9 897.0 1267.6 911.2 1269.7C925.4 1271.9 931.8 1276.1 942.8 1287.1C953.8 1298.1 956.6 1304.4 960.1 1318.6C963.7 1332.8 963.2 1338.8 958.6 1350.2C953.9 1361.5 951.0 1364.1 939.6 1369.1C928.3 1374.1 920.9 1374.4 908.1 1372.2C895.3 1370.1 890.3 1369.6 882.9 1359.6C875.4 1349.7 877.5 1341.6 875.0 1328.1C872.5 1314.6 870.8 1311.1 871.8 1299.7C872.9 1288.3 870.8 1284.4 879.7 1277.6Z" fill="#0a0608" filter="url(#rough)"/>
<path d="M873.4 1399.1C882.6 1392.8 893.2 1393.2 908.1 1395.0C923.0 1396.7 928.6 1397.9 939.6 1406.9C950.6 1416.0 953.4 1421.8 957.0 1435.3C960.5 1448.8 959.3 1455.5 955.4 1466.9C951.5 1478.2 949.6 1480.7 939.6 1485.8C929.7 1490.9 924.0 1490.3 911.2 1489.6C898.5 1488.9 892.6 1489.2 882.9 1482.6C873.1 1476.1 871.3 1474.0 867.7 1460.6C864.2 1447.1 865.8 1436.5 867.1 1422.7C868.4 1408.9 864.2 1405.3 873.4 1399.1Z" fill="#0a0608" filter="url(#rough)"/>
<path d="M898.6 1504.7C904.3 1490.5 913.2 1498.7 923.9 1501.6C934.5 1504.4 939.4 1508.1 945.9 1517.3C952.5 1526.6 953.6 1531.9 952.9 1542.6C952.2 1553.2 955.0 1559.7 942.8 1564.6C930.6 1569.6 908.6 1578.1 898.6 1564.6C888.7 1551.2 892.9 1518.9 898.6 1504.7Z" fill="#0a0608" filter="url(#rough)"/>
<path d="M1122.6 1149.3C1140.3 1142.4 1176.6 1139.5 1195.1 1149.3C1213.6 1159.0 1203.9 1172.8 1204.6 1192.5C1205.3 1212.1 1204.6 1221.0 1198.3 1236.6C1191.9 1252.2 1188.2 1254.6 1176.2 1261.9C1164.1 1269.1 1156.0 1270.2 1144.6 1268.8C1133.3 1267.4 1132.0 1267.0 1125.7 1255.5C1119.5 1244.1 1119.0 1234.7 1116.9 1217.7C1114.8 1200.7 1115.0 1195.3 1116.3 1179.9C1117.5 1164.5 1104.8 1156.1 1122.6 1149.3Z" fill="#0a0608" filter="url(#rough)"/>
<path d="M1132.0 1312.3C1142.7 1307.7 1147.6 1305.5 1160.4 1307.6C1173.2 1309.7 1179.6 1311.5 1188.8 1321.8C1198.0 1332.1 1200.7 1338.4 1201.4 1353.3C1202.1 1368.2 1199.0 1376.8 1191.9 1388.0C1184.8 1399.2 1181.9 1400.3 1169.9 1403.2C1157.8 1406.0 1151.1 1404.7 1138.3 1400.6C1125.6 1396.5 1120.5 1395.5 1113.1 1384.9C1105.6 1374.2 1105.2 1366.1 1105.2 1353.3C1105.2 1340.5 1107.1 1337.3 1113.1 1328.1C1119.1 1318.9 1121.4 1316.9 1132.0 1312.3Z" fill="#0a0608" filter="url(#rough)"/>
<path d="M1125.7 1443.2C1136.4 1438.2 1142.7 1436.0 1154.1 1438.5C1165.5 1441.0 1168.4 1442.9 1176.2 1454.2C1184.0 1465.6 1187.4 1474.0 1188.8 1488.9C1190.2 1503.8 1188.9 1509.1 1182.5 1520.5C1176.1 1531.8 1171.8 1534.6 1160.4 1539.4C1149.1 1544.2 1143.4 1545.5 1132.0 1541.9C1120.7 1538.4 1116.3 1534.8 1109.9 1523.6C1103.6 1512.4 1104.3 1506.3 1103.6 1492.1C1102.9 1477.9 1101.8 1471.6 1106.8 1460.6C1111.8 1449.6 1115.1 1448.2 1125.7 1443.2Z" fill="#0a0608" filter="url(#rough)"/>
<path d="M879.7 1154.6C887.9 1146.4 911.2 1145.2 917.5 1151.5C923.9 1157.8 917.6 1174.2 911.2 1186.2C904.9 1198.1 892.9 1210.1 886.0 1211.4C879.1 1212.7 877.8 1203.8 876.5 1192.5C875.3 1181.1 871.5 1162.8 879.7 1154.6Z" fill="#2a1020" opacity="0.7" filter="url(#cb3)"/>
<rect x="771" y="1150.5" width="57" height="74" fill="#ffffff"/>
<rect x="771" y="1501.5" width="126" height="58" fill="#ffffff"/>
</g>
<rect x="768" y="1148" width="520" height="412" fill="none" stroke="#55555a" stroke-width="2.4"/>
<text x="773.5" y="1535.3" font-size="37.5" font-weight="bold" fill="#0a0a0a" textLength="120" lengthAdjust="spacingAndGlyphs" >100 µm</text>
<rect x="774.5" y="1543.4" width="48" height="5" rx="1.5" fill="#111"/>
<g clip-path="url(#c2clip)">
<rect x="1303" y="1149" width="520" height="410" fill="#eaf0f8"/>
<rect x="1303" y="1149" width="520" height="410" fill="#fff" filter="url(#tBlueNet)" opacity="0.7"/>
<rect x="1303" y="1149" width="520" height="410" fill="#fff" opacity="0.75" filter="url(#tBlueDots)"/>
<path d="M1302.3 1389.0C1314.0 1370.7 1332.9 1407.9 1360.7 1410.5C1388.5 1413.2 1414.5 1401.4 1441.4 1402.5C1468.3 1403.5 1479.1 1402.5 1495.2 1415.9C1511.4 1429.4 1532.9 1452.5 1522.1 1469.7C1511.4 1486.9 1485.4 1495.6 1441.4 1502.0C1397.5 1508.5 1330.1 1524.6 1302.3 1502.0C1274.5 1479.4 1290.7 1407.3 1302.3 1389.0Z" fill="#a4c2e8" opacity="0.8" filter="url(#cb6)"/>
<g clip-path="url(#sk1)" opacity="0.8"><g transform="rotate(20 1416.5 1445.0)"><rect x="1281.7" y="1310.2" width="269.6" height="269.6" fill="#fff" filter="url(#sf1)"/></g></g>
<path d="M1610.9 1147.7C1646.6 1140.8 1785.8 1075.6 1822.9 1147.7C1860.0 1219.8 1891.5 1487.7 1822.9 1559.8C1754.2 1632.0 1499.3 1567.1 1430.7 1559.8C1362.0 1552.5 1414.6 1524.5 1430.7 1518.1C1446.7 1511.8 1489.6 1528.2 1522.1 1523.5C1554.6 1518.8 1590.4 1505.4 1616.3 1491.2C1642.2 1477.1 1670.1 1456.9 1670.1 1442.8C1670.1 1428.7 1628.5 1424.7 1616.3 1410.5C1604.0 1396.4 1598.7 1382.4 1600.1 1362.1C1601.5 1341.9 1619.2 1318.4 1624.3 1294.9C1629.5 1271.3 1630.7 1246.4 1629.7 1227.6C1628.8 1208.8 1622.3 1201.2 1619.0 1187.3C1615.7 1173.3 1575.2 1154.6 1610.9 1147.7Z" fill="#8cb8e8" filter="url(#cb3)"/>
<g clip-path="url(#sk2)" opacity="0.95"><g transform="rotate(62 1711.5 1354.0)"><rect x="1474.1" y="1116.6" width="474.7" height="474.7" fill="#fff" filter="url(#sf2)"/></g></g>
<g clip-path="url(#sk3)" opacity="0.95"><g transform="rotate(62 1711.5 1354.0)"><rect x="1474.1" y="1116.6" width="474.7" height="474.7" fill="#fff" filter="url(#sf3)"/></g></g>
<g clip-path="url(#sk4)" opacity="0.9"><g transform="rotate(62 1711.5 1354.0)"><rect x="1474.1" y="1116.6" width="474.7" height="474.7" fill="#fff" filter="url(#sf4)"/></g></g>
<path d="M1430.7 1518.1C1446.7 1511.8 1489.6 1527.3 1522.1 1523.5C1554.6 1519.8 1588.0 1508.4 1616.3 1496.6C1644.5 1484.9 1662.3 1458.6 1683.5 1456.3C1704.7 1453.9 1737.3 1465.1 1737.3 1483.2C1737.3 1501.3 1737.2 1546.4 1683.5 1559.8C1629.9 1573.3 1474.9 1567.1 1430.7 1559.8C1386.4 1552.5 1414.6 1524.5 1430.7 1518.1Z" fill="#4a78c0" filter="url(#cb3)"/>
<g clip-path="url(#sk5)" opacity="0.9"><g transform="rotate(-22 1595.0 1504.5)"><rect x="1417.2" y="1326.7" width="355.5" height="355.5" fill="#fff" filter="url(#sf5)"/></g></g>
<g clip-path="url(#sk6)" opacity="0.8"><g transform="rotate(-22 1595.0 1504.5)"><rect x="1417.2" y="1326.7" width="355.5" height="355.5" fill="#fff" filter="url(#sf6)"/></g></g>
<path d="M1610.9 1335.2C1620.3 1321.1 1641.1 1299.6 1656.6 1294.9C1672.2 1290.2 1689.3 1296.5 1699.7 1308.3C1710.0 1320.1 1711.1 1343.3 1715.8 1362.1C1720.5 1380.9 1729.4 1397.1 1726.6 1415.9C1723.7 1434.8 1711.9 1454.7 1699.7 1469.7C1687.4 1484.8 1671.2 1498.2 1656.6 1502.0C1642.0 1505.8 1613.9 1501.6 1616.3 1491.2C1618.6 1480.9 1669.6 1456.9 1670.1 1442.8C1670.5 1428.7 1630.7 1422.3 1619.0 1410.5C1607.2 1398.8 1604.2 1388.8 1602.8 1375.6C1601.4 1362.4 1601.5 1349.3 1610.9 1335.2Z" fill="#3f5aa8" opacity="0.95" filter="url(#cb3)"/>
<g clip-path="url(#sk7)" opacity="0.8"><g transform="rotate(60 1665.0 1400.0)"><rect x="1533.2" y="1268.2" width="263.5" height="263.5" fill="#fff" filter="url(#sf7)"/></g></g>
<g clip-path="url(#sk8)" opacity="0.8"><g transform="rotate(0 1665.0 1400.0)"><rect x="1533.2" y="1268.2" width="263.5" height="263.5" fill="#fff" filter="url(#sf8)"/></g></g>
<path d="M1627.0 1147.7C1631.7 1132.8 1650.2 1133.7 1662.0 1147.7C1673.8 1161.7 1686.8 1202.3 1694.3 1227.6C1701.8 1252.9 1710.7 1279.9 1705.1 1292.2C1699.4 1304.4 1674.2 1307.9 1662.0 1297.6C1649.8 1287.2 1641.2 1259.2 1635.1 1233.0C1629.0 1206.8 1622.3 1162.6 1627.0 1147.7Z" fill="#e4e8f4" opacity="0.95" filter="url(#cb3)"/>
<path d="M1627.0 1147.7C1631.7 1132.8 1650.2 1133.7 1662.0 1147.7C1673.8 1161.7 1686.8 1202.3 1694.3 1227.6C1701.8 1252.9 1710.7 1279.9 1705.1 1292.2C1699.4 1304.4 1674.2 1307.9 1662.0 1297.6C1649.8 1287.2 1641.2 1259.2 1635.1 1233.0C1629.0 1206.8 1622.3 1162.6 1627.0 1147.7Z" fill="#fff" filter="url(#tPurpDots)"/>
<path d="M1683.5 1254.5C1690.3 1273.3 1697.0 1292.8 1710.4 1329.8C1723.9 1366.8 1727.2 1374.2 1737.3 1402.5C1747.4 1430.7 1754.1 1419.3 1750.8 1442.8C1747.4 1466.4 1744.1 1472.4 1723.9 1496.6C1703.7 1520.8 1693.6 1523.9 1670.1 1539.7C1646.5 1555.5 1639.8 1554.8 1629.7 1559.8" fill="none" stroke="#fff" stroke-width="7" filter="url(#cb1)"/>
<path d="M1430.7 1547.7C1453.5 1548.4 1482.4 1554.5 1522.1 1550.4C1561.8 1546.4 1562.5 1542.4 1589.4 1531.6C1616.3 1520.8 1619.6 1513.4 1629.7 1507.4" fill="none" stroke="#fff" stroke-width="4" filter="url(#cb1)"/>
<path d="M1592.1 1415.9C1594.8 1409.2 1599.5 1403.8 1602.8 1389.0C1606.2 1374.2 1601.5 1372.9 1605.5 1356.7C1609.5 1340.6 1613.6 1343.3 1619.0 1324.5C1624.3 1305.6 1625.0 1292.2 1627.0 1281.4" fill="none" stroke="#fff" stroke-width="5" opacity="0.9" filter="url(#cb1)"/>
<path d="M1764.2 1402.5C1762.9 1415.9 1765.6 1429.4 1758.9 1456.3C1752.1 1483.2 1749.4 1484.2 1737.3 1510.1C1725.2 1536.0 1717.2 1547.4 1710.4 1559.8" fill="none" stroke="#fff" stroke-width="4" opacity="0.8" filter="url(#cb1)"/>
<path d="M1683.5 1450.9C1685.5 1457.6 1691.6 1466.4 1691.6 1477.8C1691.6 1489.2 1685.5 1491.9 1683.5 1496.6" fill="none" stroke="#b04868" stroke-width="4" stroke-dasharray="9 7" opacity="0.85" filter="url(#cb1)"/>
<path d="M1621.7 1550.4C1625.0 1542.4 1628.4 1527.6 1635.1 1518.1C1641.8 1508.7 1644.5 1510.8 1648.6 1512.8C1652.6 1514.8 1650.6 1522.9 1651.2 1526.2" fill="none" stroke="#b04858" stroke-width="4" opacity="0.85" filter="url(#cb1)"/>
<path d="M1721.2 1147.7C1731.6 1142.6 1807.6 1126.0 1822.9 1147.7C1838.1 1169.4 1827.6 1279.4 1822.9 1292.2C1818.1 1305.0 1801.5 1249.5 1791.1 1233.0C1780.7 1216.4 1764.0 1194.7 1753.5 1181.9C1743.0 1169.1 1710.8 1152.8 1721.2 1147.7Z" fill="#ececf0" filter="url(#cb1)"/>
<path d="M1452.2 1147.7C1473.7 1140.6 1524.5 1141.8 1546.3 1147.7C1568.1 1153.6 1550.8 1161.3 1549.0 1173.8C1547.2 1186.3 1545.5 1193.1 1538.3 1203.4C1531.0 1213.7 1527.6 1215.3 1516.7 1219.5C1505.8 1223.8 1501.3 1225.3 1489.8 1222.2C1478.3 1219.2 1474.4 1215.8 1465.6 1206.1C1456.8 1196.4 1453.9 1192.3 1450.8 1179.2C1447.8 1166.0 1430.7 1154.8 1452.2 1147.7Z" fill="#060608" filter="url(#rough)"/>
<path d="M1484.5 1262.6C1494.4 1252.9 1500.7 1250.9 1514.0 1249.1C1527.4 1247.3 1532.7 1248.5 1543.6 1254.5C1554.5 1260.6 1557.1 1265.1 1562.5 1276.0C1567.8 1286.9 1569.1 1290.8 1567.3 1302.9C1565.5 1315.0 1563.4 1320.5 1554.4 1329.8C1545.4 1339.2 1539.6 1342.2 1527.5 1344.6C1515.4 1347.1 1511.5 1345.7 1500.6 1340.6C1489.7 1335.5 1486.0 1332.7 1479.1 1321.8C1472.1 1310.9 1468.4 1305.5 1469.7 1292.2C1470.9 1278.9 1474.5 1272.3 1484.5 1262.6Z" fill="#060608" filter="url(#rough)"/>
<path d="M1508.7 1372.9C1519.0 1364.9 1525.5 1362.8 1538.3 1361.6C1551.0 1360.4 1555.5 1361.3 1565.2 1367.5C1574.8 1373.7 1577.2 1378.1 1581.3 1389.0C1585.4 1399.9 1585.9 1404.4 1583.5 1415.9C1581.0 1427.4 1579.5 1432.0 1570.5 1440.1C1561.6 1448.3 1555.7 1451.0 1543.6 1452.2C1531.5 1453.4 1527.0 1451.9 1516.7 1445.5C1506.4 1439.2 1503.4 1434.9 1497.9 1424.0C1492.5 1413.1 1490.1 1408.6 1492.5 1397.1C1494.9 1385.6 1498.4 1380.9 1508.7 1372.9Z" fill="#060608" filter="url(#rough)"/>
<path d="M1302.3 1302.9C1305.2 1285.4 1310.3 1305.2 1315.0 1313.7C1319.6 1322.2 1321.8 1328.5 1323.0 1340.6C1324.3 1352.7 1323.4 1356.6 1320.4 1367.5C1317.3 1378.4 1313.6 1383.6 1309.6 1389.0C1305.5 1394.5 1304.0 1411.1 1302.3 1391.7C1300.7 1372.3 1299.5 1320.5 1302.3 1302.9Z" fill="#060608" filter="url(#rough)"/>
<path d="M1302.3 1399.8C1306.4 1379.8 1312.4 1402.1 1320.4 1410.5C1328.3 1419.0 1333.3 1424.7 1337.8 1437.4C1342.4 1450.2 1342.6 1454.9 1340.5 1467.0C1338.4 1479.1 1336.0 1484.0 1328.4 1491.2C1320.9 1498.5 1312.8 1497.5 1306.9 1499.3C1301.0 1501.1 1303.4 1521.7 1302.3 1499.3C1301.3 1476.9 1298.3 1419.8 1302.3 1399.8Z" fill="#060608" filter="url(#rough)"/>
<path d="M1438.7 1502.0C1443.0 1496.6 1449.5 1494.6 1468.3 1488.6C1487.1 1482.5 1494.9 1482.4 1522.1 1475.1C1549.4 1467.8 1562.1 1464.7 1589.4 1456.3C1616.6 1447.8 1623.8 1442.6 1643.2 1437.4C1662.5 1432.3 1671.2 1429.8 1675.5 1433.4C1679.7 1437.0 1672.3 1443.0 1662.0 1453.6C1651.7 1464.2 1646.1 1469.6 1629.7 1480.5C1613.4 1491.4 1610.6 1493.8 1589.4 1502.0C1568.2 1510.2 1559.8 1513.2 1535.6 1516.8C1511.4 1520.4 1501.1 1519.1 1481.8 1518.1C1462.4 1517.2 1459.2 1516.4 1449.5 1512.8C1439.8 1509.1 1434.5 1507.5 1438.7 1502.0Z" fill="#060608" filter="url(#rough)"/>
<path d="M1597.4 1179.2C1601.1 1174.9 1605.4 1174.1 1610.9 1176.5C1616.3 1178.9 1618.6 1182.7 1621.7 1189.9C1624.7 1197.2 1625.6 1202.1 1624.3 1208.8C1623.1 1215.4 1621.1 1218.9 1616.3 1219.5C1611.4 1220.1 1607.7 1216.9 1602.8 1211.5C1598.0 1206.0 1596.0 1202.6 1594.8 1195.3C1593.5 1188.1 1593.8 1183.4 1597.4 1179.2Z" fill="#060608" filter="url(#rough)"/>
<rect x="1304" y="1149.5" width="54" height="78" fill="#ffffff"/>
<rect x="1304" y="1502" width="127" height="58" fill="#ffffff"/>
</g>
<rect x="1302" y="1148" width="522" height="412" fill="none" stroke="#55555a" stroke-width="2.4"/>
<text x="1307" y="1538.2" font-size="37.5" font-weight="bold" fill="#0a0a0a" textLength="120" lengthAdjust="spacingAndGlyphs" >100 µm</text>
<rect x="1309.3" y="1544" width="46" height="4.8" rx="1.5" fill="#111"/>
<g clip-path="url(#c3clip)">
<rect x="773" y="1577" width="520" height="388" fill="#e9f0ea"/>
<path d="M814.9 1577.0C851.0 1564.8 990.9 1566.0 1024.8 1577.0C1058.7 1587.9 1011.8 1616.5 1008.6 1639.6C1005.3 1662.7 1005.0 1684.8 1006.2 1709.2C1007.5 1733.5 1021.2 1767.4 1015.5 1778.8C1009.8 1790.1 984.3 1779.8 973.8 1774.1C963.2 1768.4 963.3 1745.5 955.2 1746.3C947.1 1747.1 937.9 1769.8 927.4 1778.8C916.8 1787.7 906.3 1794.9 894.9 1797.3C883.5 1799.8 873.8 1797.6 862.4 1792.7C851.1 1787.8 840.1 1780.0 830.0 1769.5C819.8 1758.9 810.5 1746.2 804.4 1732.4C798.3 1718.6 796.0 1703.6 795.2 1690.6C794.3 1677.6 795.7 1665.9 799.8 1658.1C803.9 1650.4 815.7 1660.8 818.4 1646.5C821.0 1632.3 778.7 1589.1 814.9 1577.0Z" fill="#eeaad2" filter="url(#cb3)"/>
<g clip-path="url(#sk9)" opacity="0.9"><g transform="rotate(40 910.0 1688.5)"><rect x="742.2" y="1520.7" width="335.6" height="335.6" fill="#fff" filter="url(#sf9)"/></g></g>
<g clip-path="url(#sk10)" opacity="0.9"><g transform="rotate(40 910.0 1688.5)"><rect x="742.2" y="1520.7" width="335.6" height="335.6" fill="#fff" filter="url(#sf10)"/></g></g>
<path d="M778.9 1813.6C784.8 1810.1 807.7 1824.1 823.0 1825.2C838.3 1826.2 865.3 1824.0 881.0 1820.5C896.6 1817.0 913.5 1808.2 927.4 1802.0C941.3 1795.7 960.2 1782.2 973.8 1778.8C987.3 1775.3 1009.8 1764.9 1017.8 1778.8C1025.8 1792.7 1024.5 1843.5 1027.1 1871.6C1029.7 1899.6 1054.0 1951.4 1035.0 1965.5C1016.0 1979.6 920.8 1974.5 900.7 1965.5C880.6 1956.5 912.7 1914.2 900.7 1905.2C888.7 1896.1 830.6 1909.2 820.7 1905.2C810.8 1901.2 836.0 1885.3 834.6 1878.5C833.2 1871.7 819.0 1864.5 811.4 1860.0C803.7 1855.4 788.4 1855.3 783.6 1848.4C778.7 1841.4 773.0 1817.0 778.9 1813.6Z" fill="#f0bcd8" filter="url(#cb3)"/>
<g clip-path="url(#sk11)" opacity="0.9"><g transform="rotate(-35 910.0 1877.5)"><rect x="749.3" y="1716.8" width="321.4" height="321.4" fill="#fff" filter="url(#sf11)"/></g></g>
<g clip-path="url(#sk12)" opacity="0.9"><g transform="rotate(-35 910.0 1877.5)"><rect x="749.3" y="1716.8" width="321.4" height="321.4" fill="#fff" filter="url(#sf12)"/></g></g>
<path d="M773.1 1732.4C777.8 1721.0 789.0 1750.1 799.8 1760.2C810.6 1770.4 820.4 1782.7 834.6 1790.4C848.8 1798.1 864.7 1803.9 881.0 1804.3C897.2 1804.7 911.9 1800.4 927.4 1792.7C942.8 1785.0 958.6 1763.5 969.1 1760.2C979.7 1757.0 990.9 1766.8 987.7 1774.1C984.4 1781.4 965.2 1794.3 950.6 1802.0C936.0 1809.7 920.4 1814.5 904.2 1818.2C887.9 1821.9 874.0 1823.2 857.8 1822.8C841.5 1822.4 826.2 1815.5 811.4 1815.9C796.6 1816.3 779.8 1839.8 773.1 1825.2C766.4 1810.5 768.5 1743.7 773.1 1732.4Z" fill="#eef3ef" opacity="0.92" filter="url(#cb6)"/>
<path d="M773.1 1658.1C777.1 1621.3 796.5 1650.5 799.8 1658.1C803.1 1665.8 794.8 1694.6 795.2 1709.2C795.5 1723.8 804.6 1741.7 802.1 1755.6C799.7 1769.5 781.7 1786.3 778.9 1802.0C776.1 1817.6 778.7 1846.0 783.6 1860.0C788.4 1873.9 813.0 1888.1 811.4 1894.8C809.8 1901.4 778.9 1939.5 773.1 1904.0C767.4 1868.5 769.1 1695.0 773.1 1658.1Z" fill="#e6eee8" filter="url(#cb3)"/>
<path d="M864.7 1699.9C875.0 1692.0 884.7 1683.2 894.9 1681.3C905.1 1679.5 911.1 1684.1 915.8 1690.6C920.4 1697.1 920.4 1705.5 918.1 1713.8C915.8 1722.2 910.7 1725.0 904.2 1732.4C897.7 1739.8 894.9 1746.3 885.6 1750.9C876.3 1755.6 866.6 1757.4 857.8 1755.6C849.0 1753.7 844.3 1748.6 841.5 1741.7C838.8 1734.7 839.2 1729.1 843.9 1720.8C848.5 1712.4 854.5 1707.8 864.7 1699.9Z" fill="#cc3c94" opacity="0.8" filter="url(#cb3)"/>
<path d="M918.1 1686.0C922.3 1679.5 934.8 1678.6 941.3 1681.3C947.8 1684.1 951.5 1692.5 950.6 1699.9C949.6 1707.3 942.7 1715.7 936.7 1718.5C930.6 1721.2 924.1 1720.3 920.4 1713.8C916.7 1707.3 913.9 1692.5 918.1 1686.0Z" fill="#cc3c94" opacity="0.8" filter="url(#cb3)"/>
<path d="M823.0 1890.1C828.1 1884.8 836.9 1879.0 846.2 1878.5C855.5 1878.0 865.2 1882.5 869.4 1887.8C873.6 1893.1 876.8 1901.7 867.1 1905.2C857.3 1908.7 829.5 1908.2 820.7 1905.2C811.9 1902.2 817.9 1895.4 823.0 1890.1Z" fill="#cc3c94" opacity="0.8" filter="url(#cb3)"/>
<path d="M876.3 1871.6C878.2 1866.0 893.0 1865.1 904.2 1866.9C915.3 1868.8 922.7 1873.4 932.0 1880.8C941.3 1888.3 947.8 1895.7 950.6 1904.0C953.4 1912.4 951.5 1920.7 945.9 1922.6C940.4 1924.4 932.9 1918.9 922.7 1913.3C912.5 1907.7 904.2 1903.1 894.9 1894.8C885.6 1886.4 874.5 1877.1 876.3 1871.6Z" fill="#cc3c94" opacity="0.8" filter="url(#cb3)"/>
<path d="M904.2 1913.3C913.5 1903.8 932.0 1914.2 950.6 1917.9C969.1 1921.7 983.0 1922.6 997.0 1931.9C1010.9 1941.1 1038.7 1957.6 1020.2 1964.3C1001.6 1971.1 927.4 1975.7 904.2 1965.5C881.0 1955.3 894.9 1922.8 904.2 1913.3Z" fill="#cc3c94" opacity="0.8" filter="url(#cb3)"/>
<path d="M959.9 1843.7C962.6 1839.1 977.5 1841.9 987.7 1848.4C997.9 1854.9 1004.4 1864.6 1010.9 1876.2C1017.4 1887.8 1022.9 1902.6 1020.2 1906.3C1017.4 1910.1 1006.2 1901.7 997.0 1894.8C987.7 1887.8 981.2 1881.8 973.8 1871.6C966.3 1861.3 957.1 1848.4 959.9 1843.7Z" fill="#cc3c94" opacity="0.8" filter="url(#cb3)"/>
<path d="M885.6 1876.2C886.5 1874.3 901.4 1880.8 908.8 1885.5C916.2 1890.1 923.7 1897.5 922.7 1899.4C921.8 1901.2 911.6 1899.4 904.2 1894.8C896.8 1890.1 884.7 1878.0 885.6 1876.2Z" fill="#f6d4e6" opacity="0.9" filter="url(#cb1)"/>
<path d="M913.5 1690.6C914.6 1695.3 920.4 1699.3 918.1 1709.2C915.8 1719.0 907.7 1724.8 904.2 1730.1" fill="none" stroke="#f4c8e0" stroke-width="2.5" filter="url(#cb1)"/>
<path d="M869.4 1718.5C872.9 1721.9 880.4 1724.3 883.3 1732.4C886.2 1740.5 881.6 1746.3 881.0 1750.9" fill="none" stroke="#f4c8e0" stroke-width="2.5" filter="url(#cb1)"/>
<path d="M1027.1 1556.1C1026.0 1561.3 1026.5 1556.1 1022.5 1577.0C1018.4 1597.8 1014.4 1606.5 1010.9 1639.6C1007.4 1672.6 1006.8 1674.4 1008.6 1709.2C1010.3 1744.0 1013.2 1738.2 1017.8 1778.8C1022.5 1819.4 1022.5 1824.9 1027.1 1871.6C1031.8 1918.2 1033.5 1936.5 1036.4 1965.5C1039.3 1994.5 1038.1 1982.0 1038.7 1987.5 L1400 2000 L1400 1500 Z" fill="#d8489e" filter="url(#cb1)"/>
<g clip-path="url(#sk13)" opacity="0.9"><g transform="rotate(65 1161.5 1771.0)"><rect x="923.1" y="1532.6" width="476.7" height="476.7" fill="#fff" filter="url(#sf13)"/></g></g>
<g clip-path="url(#sk14)" opacity="0.9"><g transform="rotate(65 1161.5 1771.0)"><rect x="923.1" y="1532.6" width="476.7" height="476.7" fill="#fff" filter="url(#sf14)"/></g></g>
<path d="M1038.9 1577.0C1056.8 1559.1 1110.9 1575.0 1140.9 1583.9C1171.0 1592.8 1199.9 1610.1 1210.5 1628.0C1221.0 1645.8 1213.4 1675.8 1201.2 1685.9C1189.1 1696.1 1149.1 1669.7 1140.9 1685.9C1132.8 1702.2 1156.9 1754.3 1154.8 1778.7C1152.8 1803.0 1141.9 1816.9 1129.3 1825.1C1116.8 1833.2 1096.4 1835.2 1083.0 1825.1C1069.6 1814.9 1060.5 1791.4 1052.8 1767.1C1045.1 1742.7 1041.3 1719.2 1038.9 1685.9C1036.5 1652.7 1021.1 1594.8 1038.9 1577.0Z" fill="#5a1458" opacity="0.55" filter="url(#cb6)"/>
<path d="M1136.3 1965.3C1138.6 1956.9 1135.7 1945.9 1145.6 1931.7C1155.4 1917.5 1156.6 1915.5 1175.7 1908.5C1194.8 1901.6 1201.8 1901.6 1222.1 1903.9C1242.4 1906.2 1245.3 1907.4 1256.9 1917.8C1268.5 1928.2 1265.6 1938.7 1268.5 1945.6" fill="none" stroke="#fbe6f2" stroke-width="7" opacity="0.9" filter="url(#cb1)"/>
<path d="M1154.8 1965.3C1159.5 1958.1 1160.6 1946.5 1173.4 1936.4C1186.2 1926.2 1190.8 1925.3 1205.9 1924.8C1220.9 1924.2 1223.8 1925.3 1233.7 1934.0C1243.5 1942.7 1242.4 1953.2 1245.3 1959.5" fill="none" stroke="#fbe6f2" stroke-width="6" opacity="0.9" filter="url(#cb1)"/>
<path d="M1268.5 1792.6C1271.9 1794.9 1277.7 1793.8 1282.4 1801.9C1287.0 1810.0 1288.8 1814.6 1287.0 1825.1C1285.3 1835.5 1278.3 1839.0 1275.4 1843.6" fill="none" stroke="#fbe6f2" stroke-width="8" opacity="0.9" filter="url(#cb1)"/>
<path d="M1247.6 1848.2C1253.4 1851.7 1259.8 1859.3 1270.8 1862.2C1281.8 1865.1 1286.4 1860.4 1291.7 1859.8" fill="none" stroke="#fbe6f2" stroke-width="5" opacity="0.9" filter="url(#cb1)"/>
<path d="M1256.9 1894.6C1262.7 1893.5 1270.6 1888.8 1280.1 1890.0C1289.6 1891.1 1291.2 1896.9 1294.9 1899.3" fill="none" stroke="#fbe6f2" stroke-width="5" opacity="0.9" filter="url(#cb1)"/>
<path d="M1201.2 1583.9C1209.3 1589.1 1216.9 1590.9 1233.7 1604.8C1250.5 1618.7 1254.0 1626.2 1268.5 1639.6C1283.0 1652.9 1285.9 1653.5 1291.7 1658.1" fill="none" stroke="#fbe6f2" stroke-width="4" opacity="0.9" filter="url(#cb1)"/>
<path d="M1032.0 1577.0C1033.7 1586.8 1038.3 1589.1 1038.9 1616.4C1039.5 1643.6 1037.2 1651.2 1034.3 1685.9C1031.4 1720.7 1029.1 1738.1 1027.3 1755.5" fill="none" stroke="#fbe6f2" stroke-width="3" opacity="0.9" filter="url(#cb1)"/>
<path d="M1067.9 1577.0C1073.7 1568.7 1086.6 1571.1 1092.2 1577.0C1097.8 1582.8 1089.2 1596.5 1094.6 1604.8C1099.9 1613.1 1107.5 1612.0 1117.7 1616.4C1128.0 1620.8 1136.7 1619.3 1143.3 1625.6C1149.8 1632.0 1150.0 1636.3 1149.1 1646.5C1148.1 1656.7 1144.2 1661.2 1138.6 1674.3C1133.0 1687.5 1124.3 1697.0 1122.4 1709.1C1120.4 1721.3 1123.5 1720.1 1129.3 1732.3C1135.2 1744.5 1146.8 1752.5 1150.2 1767.1C1153.6 1781.7 1153.4 1790.7 1145.6 1801.9C1137.8 1813.1 1126.3 1817.5 1113.1 1820.4C1100.0 1823.3 1091.7 1822.1 1083.0 1815.8C1074.2 1809.5 1075.8 1801.5 1071.4 1790.3C1067.0 1779.1 1061.1 1774.6 1062.1 1762.5C1063.1 1750.3 1072.6 1748.4 1076.0 1732.3C1079.4 1716.2 1079.3 1703.0 1078.3 1685.9C1077.4 1668.9 1074.3 1665.8 1071.4 1651.2C1068.5 1636.5 1065.1 1632.0 1064.4 1616.4C1063.7 1600.8 1062.1 1585.2 1067.9 1577.0Z" fill="#08040a" filter="url(#rough)"/>
<path d="M1129.3 1713.8C1135.2 1707.9 1143.6 1706.9 1154.8 1704.5C1166.0 1702.1 1175.3 1697.3 1182.7 1702.2C1190.1 1707.0 1189.6 1717.4 1190.1 1727.7C1190.6 1737.9 1190.4 1745.5 1185.0 1750.9C1179.5 1756.2 1172.4 1755.1 1164.1 1753.2C1155.8 1751.2 1153.4 1746.0 1145.6 1741.6C1137.8 1737.2 1130.4 1738.2 1127.0 1732.3C1123.6 1726.5 1123.5 1719.6 1129.3 1713.8Z" fill="#08040a" filter="url(#rough)"/>
<path d="M1201.2 1639.6C1207.6 1634.2 1215.0 1634.8 1226.7 1637.2C1238.4 1639.7 1242.8 1643.4 1256.9 1651.2C1271.0 1658.9 1286.2 1652.4 1294.0 1674.3C1301.8 1696.3 1298.8 1739.4 1294.0 1755.5C1289.1 1771.6 1281.0 1758.2 1270.8 1750.9C1260.6 1743.6 1256.5 1734.4 1245.3 1720.7C1234.1 1707.1 1227.7 1698.1 1217.5 1685.9C1207.2 1673.8 1200.0 1672.5 1196.6 1662.7C1193.2 1653.0 1194.9 1644.9 1201.2 1639.6Z" fill="#08040a" filter="url(#rough)"/>
<path d="M1117.7 1822.7C1125.5 1820.3 1142.7 1825.5 1154.8 1825.1C1167.0 1824.6 1168.3 1818.0 1175.7 1820.4C1183.1 1822.9 1188.1 1828.4 1190.1 1836.7C1192.0 1844.9 1190.4 1853.5 1185.0 1859.8C1179.5 1866.2 1173.4 1867.8 1164.1 1866.8C1154.9 1865.8 1150.7 1861.5 1140.9 1855.2C1131.2 1848.9 1122.6 1843.5 1117.7 1836.7C1112.9 1829.8 1110.0 1825.2 1117.7 1822.7Z" fill="#08040a" filter="url(#rough)"/>
<path d="M1055.1 1825.1C1062.0 1819.2 1070.8 1824.7 1083.0 1832.0C1095.1 1839.3 1105.8 1849.1 1113.1 1859.8C1120.4 1870.6 1119.7 1874.8 1117.7 1883.0C1115.8 1891.3 1104.3 1892.0 1103.8 1899.3C1103.3 1906.6 1115.9 1911.0 1115.4 1917.8C1114.9 1924.6 1110.8 1928.8 1101.5 1931.7C1092.3 1934.6 1081.1 1937.1 1071.4 1931.7C1061.6 1926.4 1059.5 1921.3 1055.1 1906.2C1050.8 1891.1 1050.5 1876.9 1050.5 1859.8C1050.5 1842.8 1048.3 1830.9 1055.1 1825.1Z" fill="#08040a" filter="url(#rough)"/>
<path d="M1069.1 1938.7C1074.9 1932.8 1085.8 1937.6 1094.6 1941.0C1103.3 1944.4 1106.9 1949.1 1110.8 1954.9C1114.7 1960.8 1122.4 1965.9 1113.1 1968.8C1103.9 1971.7 1076.0 1975.2 1066.7 1968.8C1057.5 1962.5 1063.2 1944.5 1069.1 1938.7Z" fill="#08040a" filter="url(#rough)"/>
<path d="M1020.2 1590.9C1016.7 1601.9 1010.6 1612.3 1006.2 1635.0C1001.9 1657.6 1001.6 1657.0 1002.8 1681.3C1003.9 1705.7 1007.1 1708.0 1010.9 1732.4C1014.7 1756.7 1014.9 1755.6 1017.8 1778.8C1020.7 1802.0 1020.7 1802.0 1022.5 1825.2C1024.2 1848.4 1023.4 1848.4 1024.8 1871.6C1026.3 1894.8 1025.7 1898.2 1028.3 1917.9C1030.8 1937.7 1031.2 1938.8 1035.0 1950.4C1038.8 1962.0 1041.3 1960.9 1043.4 1964.3" fill="none" stroke="#ffe21c" stroke-width="4.6" stroke-dasharray="30 9" filter="url(#cb1)"/>
<rect x="774" y="1578" width="41" height="80" fill="#ffffff"/>
<rect x="774" y="1905" width="127" height="61" fill="#ffffff"/>
</g>
<rect x="772" y="1576" width="522" height="390" fill="none" stroke="#55555a" stroke-width="2.4"/>
<text x="778" y="1939.5" font-size="37.5" font-weight="bold" fill="#0a0a0a" textLength="120" lengthAdjust="spacingAndGlyphs" >100 µm</text>
<rect x="780.8" y="1951.8" width="60.8" height="4.8" rx="1.5" fill="#111"/>
<g clip-path="url(#c4clip)">
<rect x="1303" y="1576" width="520" height="389" fill="#e8eef8"/>
<path d="M1303.1 1575.8C1381.9 1526.2 1749.7 1538.4 1828.5 1575.8C1907.3 1613.2 1835.5 1782.5 1828.5 1825.2C1821.6 1867.8 1799.5 1853.0 1782.1 1860.0C1764.7 1866.9 1733.4 1868.1 1712.5 1871.6C1691.7 1875.0 1663.8 1879.7 1642.9 1883.2C1622.1 1886.6 1594.2 1891.6 1573.4 1894.8C1552.5 1897.9 1524.6 1902.3 1503.8 1904.0C1482.9 1905.8 1464.3 1906.0 1434.2 1906.3C1404.1 1906.7 1322.8 1955.9 1303.1 1906.3C1283.5 1856.8 1224.3 1625.4 1303.1 1575.8Z" fill="#7ea6dc" filter="url(#cb1)"/>
<g clip-path="url(#sk15)" opacity="0.95"><g transform="rotate(-28 1563.0 1743.0)"><rect x="1250.0" y="1430.0" width="626.0" height="626.0" fill="#fff" filter="url(#sf15)"/></g></g>
<g clip-path="url(#sk16)" opacity="0.95"><g transform="rotate(-28 1563.0 1743.0)"><rect x="1250.0" y="1430.0" width="626.0" height="626.0" fill="#fff" filter="url(#sf16)"/></g></g>
<g clip-path="url(#sk17)" opacity="0.85"><g transform="rotate(-28 1563.0 1743.0)"><rect x="1250.0" y="1430.0" width="626.0" height="626.0" fill="#fff" filter="url(#sf17)"/></g></g>
<path d="M1362.3 1577.0C1378.0 1569.1 1424.4 1572.8 1443.5 1577.0C1462.5 1581.1 1459.2 1589.0 1457.4 1597.8C1455.5 1606.7 1445.8 1614.5 1434.2 1621.0C1422.6 1627.5 1413.3 1631.2 1399.4 1630.3C1385.5 1629.4 1372.0 1627.1 1364.6 1616.4C1357.2 1605.7 1346.5 1584.8 1362.3 1577.0Z" fill="#a060b0" opacity="0.85" filter="url(#cb3)"/>
<path d="M1304.3 1667.4C1311.7 1662.8 1331.2 1660.9 1341.4 1662.8C1351.6 1664.6 1359.0 1671.1 1355.3 1676.7C1351.6 1682.3 1333.0 1688.8 1322.8 1690.6C1312.6 1692.5 1308.0 1690.6 1304.3 1686.0C1300.6 1681.3 1296.9 1672.1 1304.3 1667.4Z" fill="#a060b0" opacity="0.85" filter="url(#cb3)"/>
<path d="M1308.9 1718.5C1320.1 1700.8 1341.4 1704.5 1364.6 1699.9C1387.8 1695.3 1409.1 1693.4 1424.9 1695.3C1440.7 1697.1 1443.5 1700.8 1443.5 1709.2C1443.5 1717.5 1437.0 1727.7 1424.9 1737.0C1412.8 1746.3 1399.8 1747.2 1383.1 1755.6C1366.4 1763.9 1356.2 1772.3 1341.4 1778.8C1326.5 1785.3 1315.4 1800.1 1308.9 1788.0C1302.4 1776.0 1297.8 1736.1 1308.9 1718.5Z" fill="#a060b0" opacity="0.85" filter="url(#cb3)"/>
<path d="M1527.0 1667.4C1531.6 1659.1 1556.5 1653.5 1564.1 1658.1C1571.7 1662.8 1569.6 1682.3 1565.0 1690.6C1560.4 1699.0 1548.5 1704.5 1540.9 1699.9C1533.3 1695.3 1522.3 1675.8 1527.0 1667.4Z" fill="#a060b0" opacity="0.85" filter="url(#cb3)"/>
<path d="M1559.6 1628.0C1563.3 1621.5 1574.5 1621.0 1582.8 1623.3C1591.2 1625.6 1599.5 1632.6 1601.4 1639.6C1603.2 1646.5 1599.5 1654.9 1592.1 1658.1C1584.7 1661.4 1570.8 1661.8 1564.3 1655.8C1557.8 1649.8 1555.9 1634.5 1559.6 1628.0Z" fill="#a060b0" opacity="0.85" filter="url(#cb3)"/>
<path d="M1557.3 1662.7C1559.6 1658.1 1571.2 1658.1 1575.9 1660.4C1580.5 1662.7 1582.8 1669.7 1580.5 1674.3C1578.2 1679.0 1568.9 1685.9 1564.3 1683.6C1559.6 1681.3 1555.0 1667.4 1557.3 1662.7Z" fill="#a060b0" opacity="0.85" filter="url(#cb3)"/>
<path d="M1362.3 1760.2C1368.6 1756.7 1374.4 1752.7 1387.8 1746.3C1401.1 1739.9 1408.7 1737.6 1415.6 1734.7" fill="none" stroke="#e04068" stroke-width="6" opacity="0.9" filter="url(#cb1)"/>
<path d="M1415.6 1583.9C1416.8 1587.4 1417.9 1591.5 1420.3 1597.8C1422.6 1604.2 1423.7 1606.5 1424.9 1609.4" fill="none" stroke="#e04068" stroke-width="5" opacity="0.9" filter="url(#cb1)"/>
<path d="M1303.1 1906.3C1322.8 1897.0 1404.1 1906.7 1434.2 1906.3C1464.3 1906.0 1482.9 1905.8 1503.8 1904.0C1524.6 1902.3 1555.2 1899.6 1573.4 1894.8C1591.5 1889.9 1606.4 1877.7 1624.6 1871.4C1642.7 1865.2 1676.7 1854.6 1694.1 1852.9C1711.5 1851.1 1726.6 1858.8 1740.5 1859.8C1754.4 1860.9 1774.4 1865.1 1786.9 1859.8C1799.4 1854.6 1818.4 1808.7 1824.0 1825.1C1829.5 1841.4 1902.1 1947.2 1824.0 1968.8C1745.8 1990.4 1381.2 1978.4 1303.1 1969.0C1225.0 1959.6 1283.5 1915.7 1303.1 1906.3Z" fill="#eef2fa" filter="url(#cb3)"/>
<g clip-path="url(#sk18)" opacity="0.85"><g transform="rotate(-12 1563.0 1902.5)"><rect x="1291.6" y="1631.1" width="542.8" height="542.8" fill="#fff" filter="url(#sf18)"/></g></g>
<g clip-path="url(#sk19)" opacity="0.7"><g transform="rotate(-12 1563.0 1902.5)"><rect x="1291.6" y="1631.1" width="542.8" height="542.8" fill="#fff" filter="url(#sf19)"/></g></g>
<path d="M1763.7 1575.8C1772.0 1572.5 1814.9 1567.6 1824.0 1575.8C1833.0 1584.0 1826.8 1622.5 1824.0 1630.3C1821.2 1638.1 1811.7 1630.1 1805.4 1628.0C1799.2 1625.9 1787.8 1620.9 1782.2 1616.4C1776.7 1611.9 1771.1 1603.9 1768.3 1597.8C1765.5 1591.7 1755.3 1579.1 1763.7 1575.8Z" fill="#f0f0f4" filter="url(#cb1)"/>
<g filter="url(#cb1)" opacity="0.96"><path d="M1336.8 1825.2C1344.5 1819.3 1353.9 1820.9 1364.6 1813.6C1375.3 1806.3 1378.0 1799.1 1387.8 1790.4C1397.5 1781.6 1400.3 1774.7 1411.0 1771.8C1421.7 1768.9 1428.1 1770.1 1438.8 1776.4C1449.5 1782.8 1453.7 1789.3 1462.0 1802.0C1470.3 1814.6 1475.3 1822.1 1478.3 1836.8C1481.2 1851.4 1480.3 1860.3 1475.9 1871.6C1471.5 1882.8 1468.6 1887.2 1457.4 1890.1C1446.2 1893.0 1437.2 1887.9 1422.6 1885.5C1408.0 1883.0 1402.4 1881.4 1387.8 1878.5C1373.2 1875.6 1365.2 1875.0 1353.0 1871.6C1340.8 1868.1 1335.2 1868.6 1329.8 1862.3C1324.4 1855.9 1326.0 1849.2 1327.5 1841.4C1328.9 1833.6 1329.0 1831.0 1336.8 1825.2Z" fill="#b42a52" stroke="#b42a52" stroke-width="17" stroke-linejoin="round"/><path d="M1464.3 1774.1C1467.3 1766.3 1476.3 1765.8 1487.5 1764.9C1498.7 1763.9 1504.5 1766.6 1517.7 1769.5C1530.8 1772.4 1541.4 1773.9 1550.2 1778.8C1558.9 1783.6 1559.9 1785.4 1559.4 1792.7C1559.0 1800.0 1554.7 1804.3 1547.8 1813.6C1541.0 1822.8 1536.2 1827.5 1527.0 1836.8C1517.7 1846.0 1512.0 1851.3 1503.8 1857.6C1495.5 1864.0 1492.4 1871.3 1487.5 1866.9C1482.7 1862.5 1483.5 1850.4 1480.6 1836.8C1477.6 1823.1 1477.0 1815.1 1473.6 1802.0C1470.2 1788.8 1461.4 1781.9 1464.3 1774.1Z" fill="#b42a52" stroke="#b42a52" stroke-width="17" stroke-linejoin="round"/><path d="M1513.0 1876.2C1516.5 1869.9 1519.2 1866.3 1527.0 1860.0C1534.8 1853.6 1539.4 1849.9 1550.2 1846.0C1560.9 1842.1 1571.2 1836.0 1578.0 1841.4C1584.8 1846.8 1584.6 1861.8 1582.6 1871.6C1580.7 1881.3 1576.5 1882.9 1568.7 1887.8C1560.9 1892.7 1555.3 1892.3 1545.5 1894.8C1535.8 1897.2 1529.6 1900.4 1522.3 1899.4C1515.0 1898.4 1512.7 1895.0 1510.7 1890.1C1508.8 1885.2 1509.6 1882.5 1513.0 1876.2Z" fill="#b42a52" stroke="#b42a52" stroke-width="17" stroke-linejoin="round"/><path d="M1464.3 1674.4C1467.3 1669.5 1472.9 1665.6 1478.3 1665.1C1483.6 1664.6 1487.9 1667.7 1489.9 1672.1C1491.8 1676.4 1490.9 1681.1 1487.5 1686.0C1484.1 1690.9 1478.5 1694.8 1473.6 1695.3C1468.7 1695.7 1466.3 1692.7 1464.3 1688.3C1462.4 1683.9 1461.4 1679.3 1464.3 1674.4Z" fill="#b42a52" stroke="#b42a52" stroke-width="17" stroke-linejoin="round"/><path d="M1568.9 1713.8C1575.2 1704.0 1580.0 1693.7 1589.8 1685.9C1599.5 1678.1 1606.0 1676.7 1615.3 1676.7C1624.5 1676.7 1628.5 1679.1 1633.8 1685.9C1639.2 1692.8 1640.3 1699.4 1640.8 1709.1C1641.3 1718.9 1640.1 1724.5 1636.2 1732.3C1632.3 1740.1 1628.1 1738.4 1622.2 1746.2C1616.4 1754.0 1615.6 1761.1 1608.3 1769.4C1601.0 1777.7 1596.2 1783.7 1587.5 1785.6C1578.7 1787.6 1572.7 1785.0 1566.6 1778.7C1560.5 1772.4 1559.9 1765.2 1558.5 1755.5C1557.0 1745.8 1557.4 1741.1 1559.6 1732.3C1561.8 1723.5 1562.6 1723.5 1568.9 1713.8Z" fill="#b42a52" stroke="#b42a52" stroke-width="17" stroke-linejoin="round"/><path d="M1668.6 1646.5C1671.5 1639.7 1675.6 1638.7 1684.8 1637.2C1694.1 1635.8 1701.0 1636.2 1712.7 1639.6C1724.4 1643.0 1729.8 1646.2 1740.5 1653.5C1751.2 1660.8 1756.9 1665.6 1763.7 1674.3C1770.5 1683.1 1773.9 1687.9 1773.0 1695.2C1772.0 1702.5 1767.8 1704.3 1759.0 1709.1C1750.3 1714.0 1742.9 1717.4 1731.2 1718.4C1719.5 1719.4 1713.1 1718.6 1703.4 1713.8C1693.7 1708.9 1691.7 1704.5 1684.8 1695.2C1678.0 1686.0 1674.3 1679.9 1670.9 1669.7C1667.5 1659.5 1665.7 1653.3 1668.6 1646.5Z" fill="#b42a52" stroke="#b42a52" stroke-width="17" stroke-linejoin="round"/><path d="M1677.9 1600.1C1680.8 1596.0 1688.5 1592.5 1698.8 1592.0C1709.0 1591.5 1716.4 1593.7 1726.6 1597.8C1736.8 1602.0 1741.1 1605.4 1747.5 1611.7C1753.8 1618.1 1755.8 1622.1 1756.7 1628.0C1757.7 1633.8 1757.4 1638.6 1752.1 1639.6C1746.7 1640.5 1741.0 1636.5 1731.2 1632.6C1721.5 1628.7 1715.5 1625.4 1705.7 1621.0C1696.0 1616.6 1690.7 1616.1 1684.8 1611.7C1679.0 1607.4 1675.0 1604.3 1677.9 1600.1Z" fill="#b42a52" stroke="#b42a52" stroke-width="17" stroke-linejoin="round"/><path d="M1596.7 1825.1C1607.9 1815.8 1627.3 1806.6 1647.7 1794.9C1668.2 1783.2 1674.6 1780.6 1694.1 1769.4C1713.6 1758.2 1725.9 1749.9 1740.5 1741.6C1755.1 1733.3 1756.4 1730.0 1763.7 1730.0C1771.0 1730.0 1773.8 1733.8 1775.3 1741.6C1776.7 1749.4 1777.9 1756.4 1770.6 1767.1C1763.3 1777.8 1756.6 1783.3 1740.5 1792.6C1724.4 1801.9 1713.6 1803.8 1694.1 1811.1C1674.6 1818.5 1664.8 1821.0 1647.7 1827.4C1630.7 1833.7 1624.2 1838.9 1613.0 1841.3C1601.8 1843.7 1597.8 1842.4 1594.4 1839.0C1591.0 1835.6 1585.5 1834.3 1596.7 1825.1Z" fill="#b42a52" stroke="#b42a52" stroke-width="17" stroke-linejoin="round"/><path d="M1740.5 1806.5C1745.9 1801.6 1753.2 1799.9 1759.0 1801.9C1764.9 1803.8 1768.3 1808.5 1768.3 1815.8C1768.3 1823.1 1764.9 1830.8 1759.0 1836.7C1753.2 1842.5 1745.9 1846.0 1740.5 1843.6C1735.1 1841.2 1733.5 1832.9 1733.5 1825.1C1733.5 1817.3 1735.1 1811.4 1740.5 1806.5Z" fill="#b42a52" stroke="#b42a52" stroke-width="17" stroke-linejoin="round"/><path d="M1759.0 1725.4C1763.7 1721.6 1777.1 1728.6 1786.9 1736.9C1796.6 1745.3 1802.6 1754.1 1807.7 1767.1C1812.8 1780.1 1813.8 1788.0 1812.4 1801.9C1811.0 1815.8 1808.2 1825.5 1800.8 1836.7C1793.4 1847.8 1787.3 1854.3 1775.3 1857.5C1763.2 1860.8 1752.1 1858.5 1740.5 1852.9C1728.9 1847.3 1719.2 1841.8 1717.3 1829.7C1715.5 1817.6 1721.9 1807.4 1731.2 1792.6C1740.5 1777.8 1758.1 1768.9 1763.7 1755.5C1769.3 1742.0 1754.4 1729.1 1759.0 1725.4Z" fill="#b42a52"/><path d="M1308.9 1843.7C1314.0 1833.5 1325.6 1819.6 1332.1 1825.2C1338.6 1830.7 1330.3 1857.6 1341.4 1871.6C1352.5 1885.5 1364.6 1889.2 1387.8 1894.8C1411.0 1900.3 1450.0 1896.6 1457.4 1899.4C1464.8 1902.2 1443.5 1907.3 1424.9 1908.7C1406.3 1910.1 1385.0 1909.1 1364.6 1906.3C1344.2 1903.6 1334.4 1900.8 1322.8 1894.8C1311.2 1888.7 1309.4 1886.4 1306.6 1876.2C1303.8 1866.0 1303.8 1853.9 1308.9 1843.7Z" fill="#b42a52"/><path d="M1643.1 1690.6C1647.3 1688.3 1658.9 1698.0 1661.7 1709.1C1664.4 1720.3 1663.1 1733.2 1657.0 1746.2C1651.0 1759.2 1638.0 1774.0 1631.5 1774.0C1625.0 1774.0 1622.7 1756.9 1624.6 1746.2C1626.4 1735.6 1637.1 1731.8 1640.8 1720.7C1644.5 1709.6 1638.9 1692.9 1643.1 1690.6Z" fill="#b42a52"/><path d="M1749.8 1662.7C1752.1 1660.4 1769.7 1670.2 1775.3 1679.0C1780.8 1687.8 1780.8 1698.5 1777.6 1706.8C1774.4 1715.2 1761.8 1724.0 1759.0 1720.7C1756.3 1717.5 1765.5 1702.2 1763.7 1690.6C1761.8 1679.0 1747.5 1665.1 1749.8 1662.7Z" fill="#b42a52"/><path d="M1457.4 1878.5C1460.2 1869.2 1480.6 1856.2 1494.5 1848.4C1508.4 1840.5 1512.9 1842.8 1527.0 1839.1C1541.1 1835.4 1557.4 1827.9 1565.0 1829.8C1572.6 1831.7 1572.6 1841.9 1565.0 1848.4C1557.4 1854.9 1539.2 1856.2 1527.0 1862.3C1514.7 1868.3 1508.4 1871.1 1503.8 1878.5C1499.1 1885.9 1508.4 1896.1 1503.8 1899.4C1499.1 1902.6 1489.9 1898.9 1480.6 1894.8C1471.3 1890.6 1454.6 1887.8 1457.4 1878.5Z" fill="#b42a52"/></g>
<g clip-path="url(#sk20)" opacity="0.0"><g transform="rotate(30 1563.0 1760.0)"><rect x="1253.7" y="1450.7" width="618.6" height="618.6" fill="#fff" filter="url(#sf20)"/></g></g>
<path d="M1336.8 1825.2C1344.5 1819.3 1353.9 1820.9 1364.6 1813.6C1375.3 1806.3 1378.0 1799.1 1387.8 1790.4C1397.5 1781.6 1400.3 1774.7 1411.0 1771.8C1421.7 1768.9 1428.1 1770.1 1438.8 1776.4C1449.5 1782.8 1453.7 1789.3 1462.0 1802.0C1470.3 1814.6 1475.3 1822.1 1478.3 1836.8C1481.2 1851.4 1480.3 1860.3 1475.9 1871.6C1471.5 1882.8 1468.6 1887.2 1457.4 1890.1C1446.2 1893.0 1437.2 1887.9 1422.6 1885.5C1408.0 1883.0 1402.4 1881.4 1387.8 1878.5C1373.2 1875.6 1365.2 1875.0 1353.0 1871.6C1340.8 1868.1 1335.2 1868.6 1329.8 1862.3C1324.4 1855.9 1326.0 1849.2 1327.5 1841.4C1328.9 1833.6 1329.0 1831.0 1336.8 1825.2Z" fill="#07040a" filter="url(#rough)"/>
<path d="M1464.3 1774.1C1467.3 1766.3 1476.3 1765.8 1487.5 1764.9C1498.7 1763.9 1504.5 1766.6 1517.7 1769.5C1530.8 1772.4 1541.4 1773.9 1550.2 1778.8C1558.9 1783.6 1559.9 1785.4 1559.4 1792.7C1559.0 1800.0 1554.7 1804.3 1547.8 1813.6C1541.0 1822.8 1536.2 1827.5 1527.0 1836.8C1517.7 1846.0 1512.0 1851.3 1503.8 1857.6C1495.5 1864.0 1492.4 1871.3 1487.5 1866.9C1482.7 1862.5 1483.5 1850.4 1480.6 1836.8C1477.6 1823.1 1477.0 1815.1 1473.6 1802.0C1470.2 1788.8 1461.4 1781.9 1464.3 1774.1Z" fill="#07040a" filter="url(#rough)"/>
<path d="M1513.0 1876.2C1516.5 1869.9 1519.2 1866.3 1527.0 1860.0C1534.8 1853.6 1539.4 1849.9 1550.2 1846.0C1560.9 1842.1 1571.2 1836.0 1578.0 1841.4C1584.8 1846.8 1584.6 1861.8 1582.6 1871.6C1580.7 1881.3 1576.5 1882.9 1568.7 1887.8C1560.9 1892.7 1555.3 1892.3 1545.5 1894.8C1535.8 1897.2 1529.6 1900.4 1522.3 1899.4C1515.0 1898.4 1512.7 1895.0 1510.7 1890.1C1508.8 1885.2 1509.6 1882.5 1513.0 1876.2Z" fill="#07040a" filter="url(#rough)"/>
<path d="M1464.3 1674.4C1467.3 1669.5 1472.9 1665.6 1478.3 1665.1C1483.6 1664.6 1487.9 1667.7 1489.9 1672.1C1491.8 1676.4 1490.9 1681.1 1487.5 1686.0C1484.1 1690.9 1478.5 1694.8 1473.6 1695.3C1468.7 1695.7 1466.3 1692.7 1464.3 1688.3C1462.4 1683.9 1461.4 1679.3 1464.3 1674.4Z" fill="#07040a" filter="url(#rough)"/>
<path d="M1568.9 1713.8C1575.2 1704.0 1580.0 1693.7 1589.8 1685.9C1599.5 1678.1 1606.0 1676.7 1615.3 1676.7C1624.5 1676.7 1628.5 1679.1 1633.8 1685.9C1639.2 1692.8 1640.3 1699.4 1640.8 1709.1C1641.3 1718.9 1640.1 1724.5 1636.2 1732.3C1632.3 1740.1 1628.1 1738.4 1622.2 1746.2C1616.4 1754.0 1615.6 1761.1 1608.3 1769.4C1601.0 1777.7 1596.2 1783.7 1587.5 1785.6C1578.7 1787.6 1572.7 1785.0 1566.6 1778.7C1560.5 1772.4 1559.9 1765.2 1558.5 1755.5C1557.0 1745.8 1557.4 1741.1 1559.6 1732.3C1561.8 1723.5 1562.6 1723.5 1568.9 1713.8Z" fill="#07040a" filter="url(#rough)"/>
<path d="M1668.6 1646.5C1671.5 1639.7 1675.6 1638.7 1684.8 1637.2C1694.1 1635.8 1701.0 1636.2 1712.7 1639.6C1724.4 1643.0 1729.8 1646.2 1740.5 1653.5C1751.2 1660.8 1756.9 1665.6 1763.7 1674.3C1770.5 1683.1 1773.9 1687.9 1773.0 1695.2C1772.0 1702.5 1767.8 1704.3 1759.0 1709.1C1750.3 1714.0 1742.9 1717.4 1731.2 1718.4C1719.5 1719.4 1713.1 1718.6 1703.4 1713.8C1693.7 1708.9 1691.7 1704.5 1684.8 1695.2C1678.0 1686.0 1674.3 1679.9 1670.9 1669.7C1667.5 1659.5 1665.7 1653.3 1668.6 1646.5Z" fill="#07040a" filter="url(#rough)"/>
<path d="M1677.9 1600.1C1680.8 1596.0 1688.5 1592.5 1698.8 1592.0C1709.0 1591.5 1716.4 1593.7 1726.6 1597.8C1736.8 1602.0 1741.1 1605.4 1747.5 1611.7C1753.8 1618.1 1755.8 1622.1 1756.7 1628.0C1757.7 1633.8 1757.4 1638.6 1752.1 1639.6C1746.7 1640.5 1741.0 1636.5 1731.2 1632.6C1721.5 1628.7 1715.5 1625.4 1705.7 1621.0C1696.0 1616.6 1690.7 1616.1 1684.8 1611.7C1679.0 1607.4 1675.0 1604.3 1677.9 1600.1Z" fill="#07040a" filter="url(#rough)"/>
<path d="M1596.7 1825.1C1607.9 1815.8 1627.3 1806.6 1647.7 1794.9C1668.2 1783.2 1674.6 1780.6 1694.1 1769.4C1713.6 1758.2 1725.9 1749.9 1740.5 1741.6C1755.1 1733.3 1756.4 1730.0 1763.7 1730.0C1771.0 1730.0 1773.8 1733.8 1775.3 1741.6C1776.7 1749.4 1777.9 1756.4 1770.6 1767.1C1763.3 1777.8 1756.6 1783.3 1740.5 1792.6C1724.4 1801.9 1713.6 1803.8 1694.1 1811.1C1674.6 1818.5 1664.8 1821.0 1647.7 1827.4C1630.7 1833.7 1624.2 1838.9 1613.0 1841.3C1601.8 1843.7 1597.8 1842.4 1594.4 1839.0C1591.0 1835.6 1585.5 1834.3 1596.7 1825.1Z" fill="#07040a" filter="url(#rough)"/>
<path d="M1740.5 1806.5C1745.9 1801.6 1753.2 1799.9 1759.0 1801.9C1764.9 1803.8 1768.3 1808.5 1768.3 1815.8C1768.3 1823.1 1764.9 1830.8 1759.0 1836.7C1753.2 1842.5 1745.9 1846.0 1740.5 1843.6C1735.1 1841.2 1733.5 1832.9 1733.5 1825.1C1733.5 1817.3 1735.1 1811.4 1740.5 1806.5Z" fill="#07040a" filter="url(#rough)"/>
<path d="M1631.5 1732.3C1634.4 1729.4 1639.1 1725.9 1643.1 1720.7C1647.2 1715.5 1646.6 1713.8 1647.7 1711.4" fill="none" stroke="#fff" stroke-width="5" opacity="0.95" filter="url(#cb1)"/>
<path d="M1740.5 1702.2C1744.0 1702.7 1748.6 1704.2 1754.4 1704.5C1760.2 1704.8 1761.4 1703.6 1763.7 1703.3" fill="none" stroke="#fff" stroke-width="5" opacity="0.95" filter="url(#cb1)"/>
<path d="M1318.2 1855.3C1319.1 1857.1 1319.9 1858.8 1321.7 1862.3C1323.4 1865.8 1324.3 1867.5 1325.2 1869.2" fill="none" stroke="#fff" stroke-width="5" opacity="0.95" filter="url(#cb1)"/>
<path d="M1592.1 1852.9C1594.4 1849.4 1596.7 1845.9 1601.4 1839.0C1606.0 1832.0 1608.3 1828.5 1610.6 1825.1" fill="none" stroke="#fff" stroke-width="5" opacity="0.95" filter="url(#cb1)"/>
<rect x="1304" y="1577" width="57" height="73.5" fill="#ffffff"/>
<rect x="1304" y="1905" width="127" height="61" fill="#ffffff"/>
</g>
<rect x="1302" y="1575" width="522" height="391" fill="none" stroke="#55555a" stroke-width="2.4"/>
<text x="1308" y="1939.5" font-size="37.5" font-weight="bold" fill="#0a0a0a" textLength="120" lengthAdjust="spacingAndGlyphs" >100 µm</text>
<rect x="1310.8" y="1951.8" width="60.8" height="4.8" rx="1.5" fill="#111"/>
<text x="645.5" y="1143" font-size="74" font-weight="bold" fill="#000" textLength="76.5" lengthAdjust="spacingAndGlyphs" >(c)</text>
<text font-size="73" font-weight="bold" fill="#000" textLength="206" lengthAdjust="spacingAndGlyphs" transform="translate(719.5 1441.5) rotate(-90)" >7 days</text>
<text font-size="73" font-weight="bold" fill="#000" textLength="245" lengthAdjust="spacingAndGlyphs" transform="translate(718.6 1886.5) rotate(-90)" >30 days</text>
</svg>
</body>
</html>
